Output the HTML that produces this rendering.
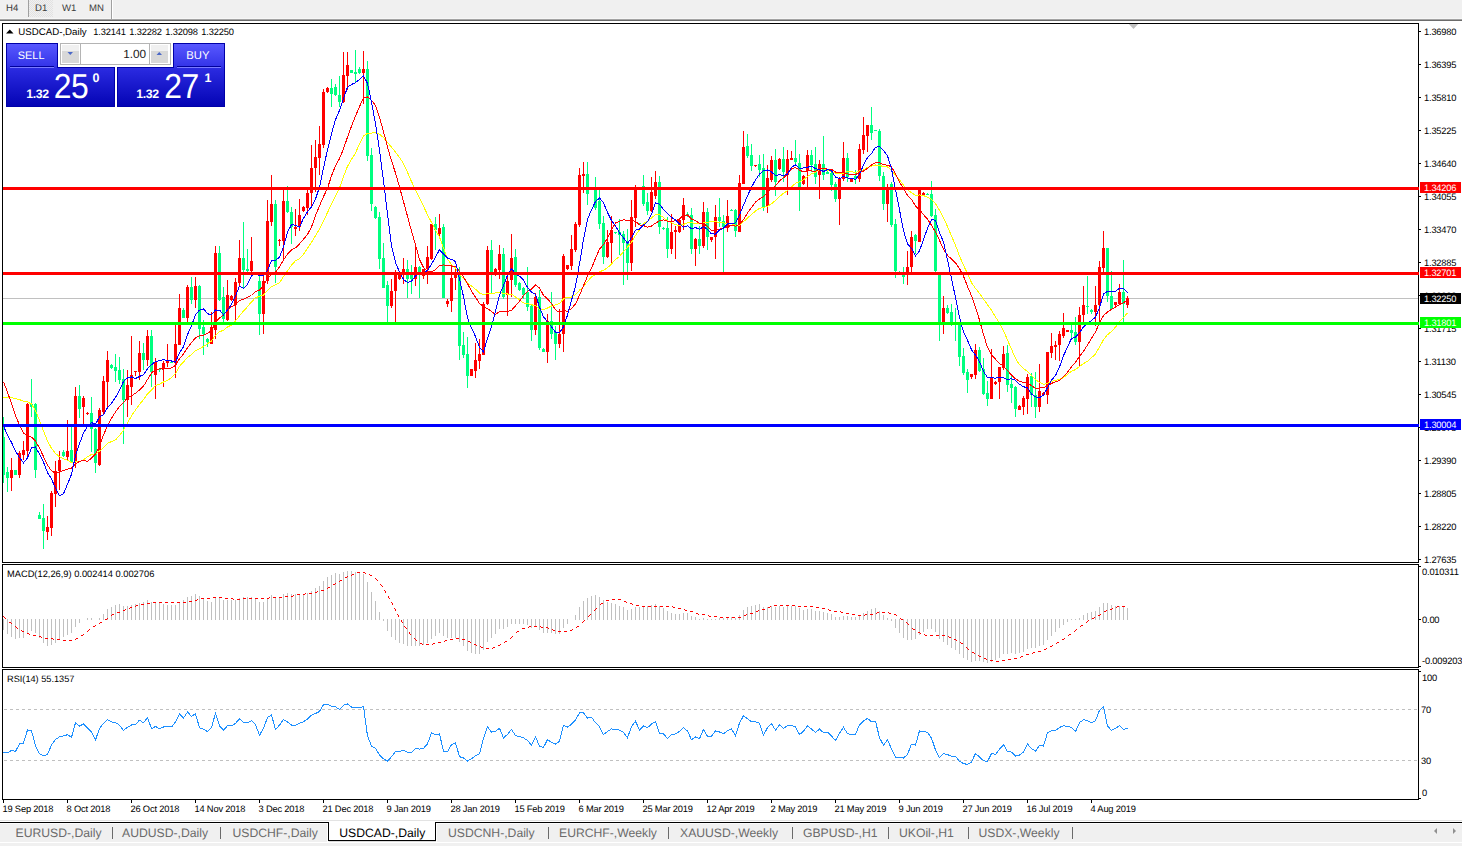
<!DOCTYPE html>
<html><head><meta charset="utf-8"><title>USDCAD-,Daily</title>
<style>html,body{margin:0;padding:0;background:#fff;}body{width:1462px;height:846px;overflow:hidden;position:relative;font-family:"Liberation Sans",sans-serif;}</style>
</head><body>
<svg width="1462" height="846" viewBox="0 0 1462 846" style="position:absolute;left:0;top:0" shape-rendering="crispEdges" text-rendering="geometricPrecision">
<defs><pattern id="chk" width="2" height="2" patternUnits="userSpaceOnUse"><rect width="2" height="2" fill="#f0f0f0"/><rect width="1" height="1" fill="#e2e2e2"/><rect x="1" y="1" width="1" height="1" fill="#e2e2e2"/></pattern><linearGradient id="gTop" x1="0" y1="0" x2="0" y2="1"><stop offset="0" stop-color="#5656ff"/><stop offset="1" stop-color="#3434ec"/></linearGradient><linearGradient id="gBot" x1="0" y1="0" x2="0" y2="1"><stop offset="0" stop-color="#2a2ae0"/><stop offset="1" stop-color="#0000b4"/></linearGradient><linearGradient id="gBtn" x1="0" y1="0" x2="0" y2="1"><stop offset="0" stop-color="#e8e8e8"/><stop offset="0.5" stop-color="#dedede"/><stop offset="1" stop-color="#cfcfcf"/></linearGradient></defs>
<rect x="0" y="0" width="1462" height="846" fill="#ffffff"/>
<rect x="0" y="0" width="1462" height="18" fill="#f0f0f0"/>
<rect x="0" y="18" width="1462" height="1" fill="#f6f6f6"/>
<rect x="0" y="19" width="1462" height="1" fill="#a3a3a3"/>
<rect x="0" y="20" width="1462" height="1" fill="#6b6b6b"/>
<rect x="29" y="0" width="24" height="17" fill="url(#chk)"/>
<rect x="28" y="0" width="1" height="17" fill="#a0a0a0"/>
<rect x="111" y="0" width="1" height="19" fill="#a0a0a0"/>
<rect x="112" y="0" width="1" height="19" fill="#ffffff"/>
<text x="6" y="11" font-family="Liberation Sans, sans-serif" font-size="9.6" fill="#3c3c3c" >H4</text>
<text x="35" y="11" font-family="Liberation Sans, sans-serif" font-size="9.6" fill="#3c3c3c" >D1</text>
<text x="62" y="11" font-family="Liberation Sans, sans-serif" font-size="9.6" fill="#3c3c3c" >W1</text>
<text x="89" y="11" font-family="Liberation Sans, sans-serif" font-size="9.6" fill="#3c3c3c" >MN</text>
<rect x="2" y="23" width="1417" height="1" fill="#000"/>
<rect x="2" y="562" width="1417" height="1" fill="#000"/>
<rect x="2" y="23" width="1" height="540" fill="#000"/>
<rect x="1418" y="23" width="1" height="540" fill="#000"/>
<rect x="2" y="564" width="1417" height="1" fill="#000"/>
<rect x="2" y="667" width="1417" height="1" fill="#000"/>
<rect x="2" y="564" width="1" height="104" fill="#000"/>
<rect x="1418" y="564" width="1" height="104" fill="#000"/>
<rect x="2" y="669" width="1417" height="1" fill="#000"/>
<rect x="2" y="799" width="1417" height="1" fill="#000"/>
<rect x="2" y="669" width="1" height="131" fill="#000"/>
<rect x="1418" y="669" width="1" height="131" fill="#000"/>
<rect x="1419" y="31" width="2" height="1" fill="#000"/>
<text x="1424" y="35" font-family="Liberation Sans, sans-serif" font-size="9.33" fill="#000" letter-spacing="-0.2">1.36980</text>
<rect x="1419" y="64" width="2" height="1" fill="#000"/>
<text x="1424" y="68" font-family="Liberation Sans, sans-serif" font-size="9.33" fill="#000" letter-spacing="-0.2">1.36395</text>
<rect x="1419" y="97" width="2" height="1" fill="#000"/>
<text x="1424" y="101" font-family="Liberation Sans, sans-serif" font-size="9.33" fill="#000" letter-spacing="-0.2">1.35810</text>
<rect x="1419" y="130" width="2" height="1" fill="#000"/>
<text x="1424" y="134" font-family="Liberation Sans, sans-serif" font-size="9.33" fill="#000" letter-spacing="-0.2">1.35225</text>
<rect x="1419" y="163" width="2" height="1" fill="#000"/>
<text x="1424" y="167" font-family="Liberation Sans, sans-serif" font-size="9.33" fill="#000" letter-spacing="-0.2">1.34640</text>
<rect x="1419" y="196" width="2" height="1" fill="#000"/>
<text x="1424" y="200" font-family="Liberation Sans, sans-serif" font-size="9.33" fill="#000" letter-spacing="-0.2">1.34055</text>
<rect x="1419" y="229" width="2" height="1" fill="#000"/>
<text x="1424" y="233" font-family="Liberation Sans, sans-serif" font-size="9.33" fill="#000" letter-spacing="-0.2">1.33470</text>
<rect x="1419" y="262" width="2" height="1" fill="#000"/>
<text x="1424" y="266" font-family="Liberation Sans, sans-serif" font-size="9.33" fill="#000" letter-spacing="-0.2">1.32885</text>
<rect x="1419" y="295" width="2" height="1" fill="#000"/>
<text x="1424" y="299" font-family="Liberation Sans, sans-serif" font-size="9.33" fill="#000" letter-spacing="-0.2">1.32300</text>
<rect x="1419" y="328" width="2" height="1" fill="#000"/>
<text x="1424" y="332" font-family="Liberation Sans, sans-serif" font-size="9.33" fill="#000" letter-spacing="-0.2">1.31715</text>
<rect x="1419" y="361" width="2" height="1" fill="#000"/>
<text x="1424" y="365" font-family="Liberation Sans, sans-serif" font-size="9.33" fill="#000" letter-spacing="-0.2">1.31130</text>
<rect x="1419" y="394" width="2" height="1" fill="#000"/>
<text x="1424" y="398" font-family="Liberation Sans, sans-serif" font-size="9.33" fill="#000" letter-spacing="-0.2">1.30545</text>
<rect x="1419" y="427" width="2" height="1" fill="#000"/>
<text x="1424" y="431" font-family="Liberation Sans, sans-serif" font-size="9.33" fill="#000" letter-spacing="-0.2">1.29975</text>
<rect x="1419" y="460" width="2" height="1" fill="#000"/>
<text x="1424" y="464" font-family="Liberation Sans, sans-serif" font-size="9.33" fill="#000" letter-spacing="-0.2">1.29390</text>
<rect x="1419" y="493" width="2" height="1" fill="#000"/>
<text x="1424" y="497" font-family="Liberation Sans, sans-serif" font-size="9.33" fill="#000" letter-spacing="-0.2">1.28805</text>
<rect x="1419" y="526" width="2" height="1" fill="#000"/>
<text x="1424" y="530" font-family="Liberation Sans, sans-serif" font-size="9.33" fill="#000" letter-spacing="-0.2">1.28220</text>
<rect x="1419" y="559" width="2" height="1" fill="#000"/>
<text x="1424" y="563" font-family="Liberation Sans, sans-serif" font-size="9.33" fill="#000" letter-spacing="-0.2">1.27635</text>
<rect x="3" y="298" width="1415" height="1" fill="#c0c0c0"/>
<rect x="1420" y="293" width="41" height="11" fill="#000"/>
<text x="1424" y="302" font-family="Liberation Sans, sans-serif" font-size="9.33" fill="#fff" letter-spacing="-0.2">1.32250</text>
<clipPath id="cm"><rect x="3" y="24" width="1415" height="538"/></clipPath>
<g clip-path="url(#cm)">
<rect x="3" y="417" width="1" height="66" fill="#00ff7f"/>
<rect x="2" y="437" width="3" height="38" fill="#00ff7f"/>
<rect x="7" y="467" width="1" height="25" fill="#00ff7f"/>
<rect x="6" y="472" width="3" height="6" fill="#00ff7f"/>
<rect x="11" y="458" width="1" height="33" fill="#ff0000"/>
<rect x="10" y="470" width="3" height="8" fill="#ff0000"/>
<rect x="15" y="470" width="1" height="5" fill="#00ff7f"/>
<rect x="14" y="470" width="3" height="5" fill="#00ff7f"/>
<rect x="19" y="451" width="1" height="27" fill="#ff0000"/>
<rect x="18" y="453" width="3" height="22" fill="#ff0000"/>
<rect x="23" y="441" width="1" height="19" fill="#ff0000"/>
<rect x="22" y="450" width="3" height="5" fill="#ff0000"/>
<rect x="27" y="403" width="1" height="53" fill="#ff0000"/>
<rect x="26" y="404" width="3" height="47" fill="#ff0000"/>
<rect x="31" y="379" width="1" height="38" fill="#00ff7f"/>
<rect x="30" y="404" width="3" height="3" fill="#00ff7f"/>
<rect x="35" y="403" width="1" height="75" fill="#00ff7f"/>
<rect x="34" y="404" width="3" height="66" fill="#00ff7f"/>
<rect x="39" y="512" width="1" height="7" fill="#00ff7f"/>
<rect x="38" y="515" width="3" height="4" fill="#00ff7f"/>
<rect x="43" y="504" width="1" height="45" fill="#00ff7f"/>
<rect x="42" y="518" width="3" height="13" fill="#00ff7f"/>
<rect x="47" y="516" width="1" height="24" fill="#ff0000"/>
<rect x="46" y="527" width="3" height="5" fill="#ff0000"/>
<rect x="51" y="491" width="1" height="45" fill="#ff0000"/>
<rect x="50" y="493" width="3" height="35" fill="#ff0000"/>
<rect x="55" y="461" width="1" height="46" fill="#ff0000"/>
<rect x="54" y="471" width="3" height="23" fill="#ff0000"/>
<rect x="59" y="451" width="1" height="39" fill="#ff0000"/>
<rect x="58" y="460" width="3" height="11" fill="#ff0000"/>
<rect x="63" y="450" width="1" height="7" fill="#00ff7f"/>
<rect x="62" y="452" width="3" height="4" fill="#00ff7f"/>
<rect x="67" y="420" width="1" height="40" fill="#ff0000"/>
<rect x="66" y="451" width="3" height="6" fill="#ff0000"/>
<rect x="71" y="426" width="1" height="37" fill="#00ff7f"/>
<rect x="70" y="450" width="3" height="12" fill="#00ff7f"/>
<rect x="75" y="387" width="1" height="81" fill="#ff0000"/>
<rect x="74" y="396" width="3" height="66" fill="#ff0000"/>
<rect x="79" y="385" width="1" height="33" fill="#00ff7f"/>
<rect x="78" y="396" width="3" height="13" fill="#00ff7f"/>
<rect x="83" y="396" width="1" height="28" fill="#ff0000"/>
<rect x="82" y="398" width="3" height="9" fill="#ff0000"/>
<rect x="87" y="412" width="1" height="3" fill="#ff0000"/>
<rect x="86" y="413" width="3" height="1" fill="#ff0000"/>
<rect x="91" y="397" width="1" height="55" fill="#00ff7f"/>
<rect x="90" y="413" width="3" height="16" fill="#00ff7f"/>
<rect x="95" y="428" width="1" height="45" fill="#00ff7f"/>
<rect x="94" y="429" width="3" height="34" fill="#00ff7f"/>
<rect x="99" y="408" width="1" height="58" fill="#ff0000"/>
<rect x="98" y="410" width="3" height="55" fill="#ff0000"/>
<rect x="103" y="376" width="1" height="39" fill="#ff0000"/>
<rect x="102" y="381" width="3" height="31" fill="#ff0000"/>
<rect x="107" y="351" width="1" height="56" fill="#ff0000"/>
<rect x="106" y="360" width="3" height="22" fill="#ff0000"/>
<rect x="111" y="364" width="1" height="5" fill="#00ff7f"/>
<rect x="110" y="365" width="3" height="3" fill="#00ff7f"/>
<rect x="115" y="354" width="1" height="28" fill="#00ff7f"/>
<rect x="114" y="367" width="3" height="4" fill="#00ff7f"/>
<rect x="119" y="357" width="1" height="27" fill="#00ff7f"/>
<rect x="118" y="370" width="3" height="10" fill="#00ff7f"/>
<rect x="123" y="369" width="1" height="75" fill="#00ff7f"/>
<rect x="122" y="379" width="3" height="21" fill="#00ff7f"/>
<rect x="127" y="370" width="1" height="47" fill="#ff0000"/>
<rect x="126" y="385" width="3" height="15" fill="#ff0000"/>
<rect x="131" y="336" width="1" height="69" fill="#ff0000"/>
<rect x="130" y="375" width="3" height="12" fill="#ff0000"/>
<rect x="135" y="371" width="1" height="5" fill="#ff0000"/>
<rect x="134" y="371" width="3" height="1" fill="#ff0000"/>
<rect x="139" y="341" width="1" height="39" fill="#ff0000"/>
<rect x="138" y="353" width="3" height="19" fill="#ff0000"/>
<rect x="143" y="343" width="1" height="27" fill="#00ff7f"/>
<rect x="142" y="353" width="3" height="7" fill="#00ff7f"/>
<rect x="147" y="330" width="1" height="36" fill="#ff0000"/>
<rect x="146" y="336" width="3" height="24" fill="#ff0000"/>
<rect x="151" y="330" width="1" height="57" fill="#00ff7f"/>
<rect x="150" y="336" width="3" height="36" fill="#00ff7f"/>
<rect x="155" y="358" width="1" height="41" fill="#ff0000"/>
<rect x="154" y="362" width="3" height="13" fill="#ff0000"/>
<rect x="159" y="369" width="1" height="3" fill="#00ff7f"/>
<rect x="158" y="369" width="3" height="1" fill="#00ff7f"/>
<rect x="163" y="361" width="1" height="26" fill="#ff0000"/>
<rect x="162" y="363" width="3" height="6" fill="#ff0000"/>
<rect x="167" y="344" width="1" height="23" fill="#ff0000"/>
<rect x="166" y="361" width="3" height="2" fill="#ff0000"/>
<rect x="171" y="361" width="1" height="2" fill="#00ff7f"/>
<rect x="170" y="362" width="3" height="1" fill="#00ff7f"/>
<rect x="175" y="325" width="1" height="53" fill="#ff0000"/>
<rect x="174" y="344" width="3" height="19" fill="#ff0000"/>
<rect x="179" y="294" width="1" height="51" fill="#ff0000"/>
<rect x="178" y="308" width="3" height="37" fill="#ff0000"/>
<rect x="183" y="308" width="1" height="10" fill="#00ff7f"/>
<rect x="182" y="310" width="3" height="8" fill="#00ff7f"/>
<rect x="187" y="285" width="1" height="37" fill="#ff0000"/>
<rect x="186" y="287" width="3" height="31" fill="#ff0000"/>
<rect x="191" y="277" width="1" height="27" fill="#00ff7f"/>
<rect x="190" y="287" width="3" height="13" fill="#00ff7f"/>
<rect x="195" y="277" width="1" height="31" fill="#ff0000"/>
<rect x="194" y="286" width="3" height="14" fill="#ff0000"/>
<rect x="199" y="285" width="1" height="54" fill="#00ff7f"/>
<rect x="198" y="286" width="3" height="43" fill="#00ff7f"/>
<rect x="203" y="320" width="1" height="35" fill="#00ff7f"/>
<rect x="202" y="327" width="3" height="7" fill="#00ff7f"/>
<rect x="207" y="338" width="1" height="9" fill="#00ff7f"/>
<rect x="206" y="339" width="3" height="3" fill="#00ff7f"/>
<rect x="211" y="312" width="1" height="32" fill="#ff0000"/>
<rect x="210" y="327" width="3" height="17" fill="#ff0000"/>
<rect x="215" y="246" width="1" height="93" fill="#ff0000"/>
<rect x="214" y="253" width="3" height="77" fill="#ff0000"/>
<rect x="219" y="246" width="1" height="55" fill="#00ff7f"/>
<rect x="218" y="253" width="3" height="47" fill="#00ff7f"/>
<rect x="223" y="287" width="1" height="35" fill="#00ff7f"/>
<rect x="222" y="297" width="3" height="22" fill="#00ff7f"/>
<rect x="227" y="280" width="1" height="41" fill="#ff0000"/>
<rect x="226" y="295" width="3" height="25" fill="#ff0000"/>
<rect x="231" y="295" width="1" height="6" fill="#ff0000"/>
<rect x="230" y="296" width="3" height="4" fill="#ff0000"/>
<rect x="235" y="278" width="1" height="42" fill="#ff0000"/>
<rect x="234" y="282" width="3" height="23" fill="#ff0000"/>
<rect x="239" y="240" width="1" height="46" fill="#ff0000"/>
<rect x="238" y="258" width="3" height="25" fill="#ff0000"/>
<rect x="243" y="222" width="1" height="67" fill="#00ff7f"/>
<rect x="242" y="258" width="3" height="12" fill="#00ff7f"/>
<rect x="247" y="249" width="1" height="23" fill="#00ff7f"/>
<rect x="246" y="269" width="3" height="2" fill="#00ff7f"/>
<rect x="251" y="237" width="1" height="35" fill="#ff0000"/>
<rect x="250" y="261" width="3" height="10" fill="#ff0000"/>
<rect x="255" y="273" width="1" height="1" fill="#00ff7f"/>
<rect x="254" y="273" width="3" height="1" fill="#00ff7f"/>
<rect x="259" y="276" width="1" height="59" fill="#00ff7f"/>
<rect x="258" y="281" width="3" height="33" fill="#00ff7f"/>
<rect x="263" y="276" width="1" height="58" fill="#ff0000"/>
<rect x="262" y="281" width="3" height="33" fill="#ff0000"/>
<rect x="267" y="200" width="1" height="84" fill="#ff0000"/>
<rect x="266" y="221" width="3" height="60" fill="#ff0000"/>
<rect x="271" y="175" width="1" height="51" fill="#ff0000"/>
<rect x="270" y="204" width="3" height="18" fill="#ff0000"/>
<rect x="275" y="200" width="1" height="83" fill="#00ff7f"/>
<rect x="274" y="204" width="3" height="63" fill="#00ff7f"/>
<rect x="279" y="239" width="1" height="7" fill="#ff0000"/>
<rect x="278" y="240" width="3" height="1" fill="#ff0000"/>
<rect x="283" y="190" width="1" height="71" fill="#ff0000"/>
<rect x="282" y="201" width="3" height="40" fill="#ff0000"/>
<rect x="287" y="186" width="1" height="27" fill="#00ff7f"/>
<rect x="286" y="201" width="3" height="11" fill="#00ff7f"/>
<rect x="291" y="207" width="1" height="37" fill="#00ff7f"/>
<rect x="290" y="212" width="3" height="15" fill="#00ff7f"/>
<rect x="295" y="209" width="1" height="27" fill="#ff0000"/>
<rect x="294" y="227" width="3" height="2" fill="#ff0000"/>
<rect x="299" y="199" width="1" height="32" fill="#ff0000"/>
<rect x="298" y="215" width="3" height="12" fill="#ff0000"/>
<rect x="303" y="206" width="1" height="6" fill="#ff0000"/>
<rect x="302" y="207" width="3" height="4" fill="#ff0000"/>
<rect x="307" y="190" width="1" height="25" fill="#ff0000"/>
<rect x="306" y="193" width="3" height="15" fill="#ff0000"/>
<rect x="311" y="145" width="1" height="61" fill="#ff0000"/>
<rect x="310" y="168" width="3" height="25" fill="#ff0000"/>
<rect x="315" y="140" width="1" height="52" fill="#ff0000"/>
<rect x="314" y="157" width="3" height="11" fill="#ff0000"/>
<rect x="319" y="126" width="1" height="49" fill="#ff0000"/>
<rect x="318" y="144" width="3" height="14" fill="#ff0000"/>
<rect x="323" y="89" width="1" height="59" fill="#ff0000"/>
<rect x="322" y="92" width="3" height="53" fill="#ff0000"/>
<rect x="327" y="87" width="1" height="6" fill="#ff0000"/>
<rect x="326" y="88" width="3" height="4" fill="#ff0000"/>
<rect x="331" y="79" width="1" height="28" fill="#00ff7f"/>
<rect x="330" y="88" width="3" height="6" fill="#00ff7f"/>
<rect x="335" y="84" width="1" height="12" fill="#00ff7f"/>
<rect x="334" y="87" width="3" height="8" fill="#00ff7f"/>
<rect x="339" y="76" width="1" height="31" fill="#00ff7f"/>
<rect x="338" y="95" width="3" height="7" fill="#00ff7f"/>
<rect x="343" y="52" width="1" height="51" fill="#ff0000"/>
<rect x="342" y="75" width="3" height="27" fill="#ff0000"/>
<rect x="347" y="52" width="1" height="38" fill="#ff0000"/>
<rect x="346" y="65" width="3" height="11" fill="#ff0000"/>
<rect x="351" y="70" width="1" height="3" fill="#00ff7f"/>
<rect x="350" y="70" width="3" height="3" fill="#00ff7f"/>
<rect x="355" y="50" width="1" height="32" fill="#00ff7f"/>
<rect x="354" y="72" width="3" height="2" fill="#00ff7f"/>
<rect x="359" y="67" width="1" height="7" fill="#00ff7f"/>
<rect x="358" y="69" width="3" height="4" fill="#00ff7f"/>
<rect x="363" y="51" width="1" height="53" fill="#ff0000"/>
<rect x="362" y="69" width="3" height="4" fill="#ff0000"/>
<rect x="367" y="61" width="1" height="100" fill="#00ff7f"/>
<rect x="366" y="69" width="3" height="87" fill="#00ff7f"/>
<rect x="371" y="148" width="1" height="63" fill="#00ff7f"/>
<rect x="370" y="155" width="3" height="49" fill="#00ff7f"/>
<rect x="375" y="206" width="1" height="13" fill="#00ff7f"/>
<rect x="374" y="207" width="3" height="11" fill="#00ff7f"/>
<rect x="379" y="212" width="1" height="57" fill="#00ff7f"/>
<rect x="378" y="217" width="3" height="42" fill="#00ff7f"/>
<rect x="383" y="243" width="1" height="45" fill="#00ff7f"/>
<rect x="382" y="258" width="3" height="30" fill="#00ff7f"/>
<rect x="387" y="281" width="1" height="41" fill="#00ff7f"/>
<rect x="386" y="285" width="3" height="21" fill="#00ff7f"/>
<rect x="391" y="279" width="1" height="29" fill="#ff0000"/>
<rect x="390" y="291" width="3" height="15" fill="#ff0000"/>
<rect x="395" y="270" width="1" height="52" fill="#ff0000"/>
<rect x="394" y="272" width="3" height="19" fill="#ff0000"/>
<rect x="399" y="272" width="1" height="8" fill="#ff0000"/>
<rect x="398" y="272" width="3" height="7" fill="#ff0000"/>
<rect x="403" y="258" width="1" height="26" fill="#ff0000"/>
<rect x="402" y="269" width="3" height="6" fill="#ff0000"/>
<rect x="407" y="260" width="1" height="38" fill="#00ff7f"/>
<rect x="406" y="269" width="3" height="10" fill="#00ff7f"/>
<rect x="411" y="265" width="1" height="29" fill="#00ff7f"/>
<rect x="410" y="274" width="3" height="5" fill="#00ff7f"/>
<rect x="415" y="247" width="1" height="39" fill="#ff0000"/>
<rect x="414" y="267" width="3" height="12" fill="#ff0000"/>
<rect x="419" y="266" width="1" height="32" fill="#00ff7f"/>
<rect x="418" y="267" width="3" height="5" fill="#00ff7f"/>
<rect x="423" y="269" width="1" height="10" fill="#ff0000"/>
<rect x="422" y="269" width="3" height="7" fill="#ff0000"/>
<rect x="427" y="246" width="1" height="38" fill="#ff0000"/>
<rect x="426" y="257" width="3" height="12" fill="#ff0000"/>
<rect x="431" y="224" width="1" height="36" fill="#ff0000"/>
<rect x="430" y="224" width="3" height="35" fill="#ff0000"/>
<rect x="435" y="217" width="1" height="33" fill="#00ff7f"/>
<rect x="434" y="224" width="3" height="6" fill="#00ff7f"/>
<rect x="439" y="214" width="1" height="23" fill="#ff0000"/>
<rect x="438" y="228" width="3" height="6" fill="#ff0000"/>
<rect x="443" y="224" width="1" height="74" fill="#00ff7f"/>
<rect x="442" y="227" width="3" height="71" fill="#00ff7f"/>
<rect x="447" y="299" width="1" height="8" fill="#ff0000"/>
<rect x="446" y="301" width="3" height="3" fill="#ff0000"/>
<rect x="451" y="267" width="1" height="45" fill="#ff0000"/>
<rect x="450" y="278" width="3" height="23" fill="#ff0000"/>
<rect x="455" y="267" width="1" height="23" fill="#ff0000"/>
<rect x="454" y="272" width="3" height="6" fill="#ff0000"/>
<rect x="459" y="267" width="1" height="93" fill="#00ff7f"/>
<rect x="458" y="272" width="3" height="74" fill="#00ff7f"/>
<rect x="463" y="332" width="1" height="26" fill="#00ff7f"/>
<rect x="462" y="345" width="3" height="10" fill="#00ff7f"/>
<rect x="467" y="337" width="1" height="51" fill="#00ff7f"/>
<rect x="466" y="354" width="3" height="22" fill="#00ff7f"/>
<rect x="471" y="369" width="1" height="7" fill="#ff0000"/>
<rect x="470" y="369" width="3" height="7" fill="#ff0000"/>
<rect x="475" y="343" width="1" height="35" fill="#ff0000"/>
<rect x="474" y="360" width="3" height="11" fill="#ff0000"/>
<rect x="479" y="339" width="1" height="30" fill="#ff0000"/>
<rect x="478" y="354" width="3" height="7" fill="#ff0000"/>
<rect x="483" y="302" width="1" height="53" fill="#ff0000"/>
<rect x="482" y="304" width="3" height="51" fill="#ff0000"/>
<rect x="487" y="246" width="1" height="59" fill="#ff0000"/>
<rect x="486" y="250" width="3" height="54" fill="#ff0000"/>
<rect x="491" y="240" width="1" height="54" fill="#00ff7f"/>
<rect x="490" y="250" width="3" height="23" fill="#00ff7f"/>
<rect x="495" y="268" width="1" height="8" fill="#ff0000"/>
<rect x="494" y="269" width="3" height="6" fill="#ff0000"/>
<rect x="499" y="245" width="1" height="34" fill="#ff0000"/>
<rect x="498" y="254" width="3" height="16" fill="#ff0000"/>
<rect x="503" y="248" width="1" height="51" fill="#00ff7f"/>
<rect x="502" y="254" width="3" height="43" fill="#00ff7f"/>
<rect x="507" y="277" width="1" height="39" fill="#ff0000"/>
<rect x="506" y="281" width="3" height="14" fill="#ff0000"/>
<rect x="511" y="234" width="1" height="63" fill="#ff0000"/>
<rect x="510" y="258" width="3" height="22" fill="#ff0000"/>
<rect x="515" y="249" width="1" height="38" fill="#00ff7f"/>
<rect x="514" y="257" width="3" height="28" fill="#00ff7f"/>
<rect x="519" y="282" width="1" height="9" fill="#00ff7f"/>
<rect x="518" y="283" width="3" height="7" fill="#00ff7f"/>
<rect x="523" y="287" width="1" height="12" fill="#00ff7f"/>
<rect x="522" y="288" width="3" height="7" fill="#00ff7f"/>
<rect x="527" y="267" width="1" height="44" fill="#00ff7f"/>
<rect x="526" y="292" width="3" height="15" fill="#00ff7f"/>
<rect x="531" y="305" width="1" height="36" fill="#00ff7f"/>
<rect x="530" y="306" width="3" height="24" fill="#00ff7f"/>
<rect x="535" y="293" width="1" height="42" fill="#ff0000"/>
<rect x="534" y="297" width="3" height="33" fill="#ff0000"/>
<rect x="539" y="290" width="1" height="60" fill="#00ff7f"/>
<rect x="538" y="297" width="3" height="51" fill="#00ff7f"/>
<rect x="543" y="348" width="1" height="4" fill="#00ff7f"/>
<rect x="542" y="349" width="3" height="3" fill="#00ff7f"/>
<rect x="547" y="314" width="1" height="49" fill="#ff0000"/>
<rect x="546" y="321" width="3" height="31" fill="#ff0000"/>
<rect x="551" y="292" width="1" height="47" fill="#00ff7f"/>
<rect x="550" y="321" width="3" height="13" fill="#00ff7f"/>
<rect x="555" y="326" width="1" height="34" fill="#00ff7f"/>
<rect x="554" y="332" width="3" height="12" fill="#00ff7f"/>
<rect x="559" y="309" width="1" height="39" fill="#ff0000"/>
<rect x="558" y="334" width="3" height="10" fill="#ff0000"/>
<rect x="563" y="254" width="1" height="98" fill="#ff0000"/>
<rect x="562" y="256" width="3" height="78" fill="#ff0000"/>
<rect x="567" y="265" width="1" height="5" fill="#ff0000"/>
<rect x="566" y="265" width="3" height="4" fill="#ff0000"/>
<rect x="571" y="235" width="1" height="35" fill="#ff0000"/>
<rect x="570" y="249" width="3" height="17" fill="#ff0000"/>
<rect x="575" y="222" width="1" height="30" fill="#ff0000"/>
<rect x="574" y="224" width="3" height="26" fill="#ff0000"/>
<rect x="579" y="168" width="1" height="59" fill="#ff0000"/>
<rect x="578" y="175" width="3" height="50" fill="#ff0000"/>
<rect x="583" y="162" width="1" height="31" fill="#ff0000"/>
<rect x="582" y="174" width="3" height="2" fill="#ff0000"/>
<rect x="587" y="162" width="1" height="43" fill="#00ff7f"/>
<rect x="586" y="174" width="3" height="20" fill="#00ff7f"/>
<rect x="591" y="187" width="1" height="2" fill="#ff0000"/>
<rect x="590" y="188" width="3" height="1" fill="#ff0000"/>
<rect x="595" y="177" width="1" height="33" fill="#00ff7f"/>
<rect x="594" y="190" width="3" height="18" fill="#00ff7f"/>
<rect x="599" y="190" width="1" height="39" fill="#00ff7f"/>
<rect x="598" y="201" width="3" height="23" fill="#00ff7f"/>
<rect x="603" y="216" width="1" height="48" fill="#00ff7f"/>
<rect x="602" y="223" width="3" height="34" fill="#00ff7f"/>
<rect x="607" y="230" width="1" height="28" fill="#ff0000"/>
<rect x="606" y="242" width="3" height="15" fill="#ff0000"/>
<rect x="611" y="216" width="1" height="47" fill="#ff0000"/>
<rect x="610" y="230" width="3" height="13" fill="#ff0000"/>
<rect x="615" y="232" width="1" height="2" fill="#00ff7f"/>
<rect x="614" y="232" width="3" height="1" fill="#00ff7f"/>
<rect x="619" y="219" width="1" height="36" fill="#00ff7f"/>
<rect x="618" y="232" width="3" height="3" fill="#00ff7f"/>
<rect x="623" y="231" width="1" height="54" fill="#00ff7f"/>
<rect x="622" y="234" width="3" height="9" fill="#00ff7f"/>
<rect x="627" y="229" width="1" height="51" fill="#00ff7f"/>
<rect x="626" y="242" width="3" height="21" fill="#00ff7f"/>
<rect x="631" y="200" width="1" height="71" fill="#ff0000"/>
<rect x="630" y="217" width="3" height="46" fill="#ff0000"/>
<rect x="635" y="185" width="1" height="42" fill="#ff0000"/>
<rect x="634" y="190" width="3" height="28" fill="#ff0000"/>
<rect x="639" y="223" width="1" height="1" fill="#00ff7f"/>
<rect x="638" y="223" width="3" height="1" fill="#00ff7f"/>
<rect x="643" y="175" width="1" height="31" fill="#00ff7f"/>
<rect x="642" y="186" width="3" height="18" fill="#00ff7f"/>
<rect x="647" y="193" width="1" height="22" fill="#00ff7f"/>
<rect x="646" y="202" width="3" height="9" fill="#00ff7f"/>
<rect x="651" y="177" width="1" height="35" fill="#ff0000"/>
<rect x="650" y="192" width="3" height="19" fill="#ff0000"/>
<rect x="655" y="171" width="1" height="28" fill="#ff0000"/>
<rect x="654" y="182" width="3" height="14" fill="#ff0000"/>
<rect x="659" y="176" width="1" height="58" fill="#00ff7f"/>
<rect x="658" y="182" width="3" height="45" fill="#00ff7f"/>
<rect x="663" y="227" width="1" height="3" fill="#00ff7f"/>
<rect x="662" y="228" width="3" height="1" fill="#00ff7f"/>
<rect x="667" y="217" width="1" height="41" fill="#00ff7f"/>
<rect x="666" y="228" width="3" height="21" fill="#00ff7f"/>
<rect x="671" y="214" width="1" height="40" fill="#ff0000"/>
<rect x="670" y="232" width="3" height="17" fill="#ff0000"/>
<rect x="675" y="226" width="1" height="33" fill="#ff0000"/>
<rect x="674" y="230" width="3" height="2" fill="#ff0000"/>
<rect x="679" y="218" width="1" height="15" fill="#ff0000"/>
<rect x="678" y="220" width="3" height="12" fill="#ff0000"/>
<rect x="683" y="198" width="1" height="32" fill="#ff0000"/>
<rect x="682" y="205" width="3" height="15" fill="#ff0000"/>
<rect x="687" y="212" width="1" height="5" fill="#00ff7f"/>
<rect x="686" y="214" width="3" height="2" fill="#00ff7f"/>
<rect x="691" y="208" width="1" height="46" fill="#00ff7f"/>
<rect x="690" y="215" width="3" height="34" fill="#00ff7f"/>
<rect x="695" y="238" width="1" height="28" fill="#ff0000"/>
<rect x="694" y="239" width="3" height="10" fill="#ff0000"/>
<rect x="699" y="226" width="1" height="28" fill="#00ff7f"/>
<rect x="698" y="239" width="3" height="7" fill="#00ff7f"/>
<rect x="703" y="202" width="1" height="46" fill="#ff0000"/>
<rect x="702" y="212" width="3" height="34" fill="#ff0000"/>
<rect x="707" y="208" width="1" height="42" fill="#00ff7f"/>
<rect x="706" y="212" width="3" height="25" fill="#00ff7f"/>
<rect x="711" y="237" width="1" height="5" fill="#ff0000"/>
<rect x="710" y="237" width="3" height="3" fill="#ff0000"/>
<rect x="715" y="205" width="1" height="54" fill="#ff0000"/>
<rect x="714" y="217" width="3" height="20" fill="#ff0000"/>
<rect x="719" y="198" width="1" height="29" fill="#00ff7f"/>
<rect x="718" y="217" width="3" height="4" fill="#00ff7f"/>
<rect x="723" y="215" width="1" height="57" fill="#00ff7f"/>
<rect x="722" y="221" width="3" height="6" fill="#00ff7f"/>
<rect x="727" y="200" width="1" height="32" fill="#ff0000"/>
<rect x="726" y="216" width="3" height="12" fill="#ff0000"/>
<rect x="731" y="209" width="1" height="2" fill="#00ff7f"/>
<rect x="730" y="210" width="3" height="1" fill="#00ff7f"/>
<rect x="735" y="209" width="1" height="28" fill="#00ff7f"/>
<rect x="734" y="210" width="3" height="21" fill="#00ff7f"/>
<rect x="739" y="175" width="1" height="57" fill="#ff0000"/>
<rect x="738" y="183" width="3" height="49" fill="#ff0000"/>
<rect x="743" y="131" width="1" height="53" fill="#ff0000"/>
<rect x="742" y="147" width="3" height="37" fill="#ff0000"/>
<rect x="747" y="134" width="1" height="24" fill="#00ff7f"/>
<rect x="746" y="146" width="3" height="10" fill="#00ff7f"/>
<rect x="751" y="144" width="1" height="27" fill="#00ff7f"/>
<rect x="750" y="155" width="3" height="11" fill="#00ff7f"/>
<rect x="755" y="165" width="1" height="2" fill="#ff0000"/>
<rect x="754" y="165" width="3" height="1" fill="#ff0000"/>
<rect x="759" y="155" width="1" height="22" fill="#00ff7f"/>
<rect x="758" y="164" width="3" height="6" fill="#00ff7f"/>
<rect x="763" y="154" width="1" height="57" fill="#00ff7f"/>
<rect x="762" y="168" width="3" height="40" fill="#00ff7f"/>
<rect x="767" y="165" width="1" height="48" fill="#ff0000"/>
<rect x="766" y="178" width="3" height="28" fill="#ff0000"/>
<rect x="771" y="156" width="1" height="26" fill="#ff0000"/>
<rect x="770" y="160" width="3" height="20" fill="#ff0000"/>
<rect x="775" y="149" width="1" height="47" fill="#00ff7f"/>
<rect x="774" y="160" width="3" height="22" fill="#00ff7f"/>
<rect x="779" y="158" width="1" height="12" fill="#ff0000"/>
<rect x="778" y="159" width="3" height="10" fill="#ff0000"/>
<rect x="783" y="147" width="1" height="35" fill="#00ff7f"/>
<rect x="782" y="159" width="3" height="13" fill="#00ff7f"/>
<rect x="787" y="150" width="1" height="45" fill="#ff0000"/>
<rect x="786" y="159" width="3" height="16" fill="#ff0000"/>
<rect x="791" y="151" width="1" height="9" fill="#ff0000"/>
<rect x="790" y="158" width="3" height="2" fill="#ff0000"/>
<rect x="795" y="140" width="1" height="26" fill="#00ff7f"/>
<rect x="794" y="158" width="3" height="4" fill="#00ff7f"/>
<rect x="799" y="154" width="1" height="57" fill="#00ff7f"/>
<rect x="798" y="163" width="3" height="24" fill="#00ff7f"/>
<rect x="803" y="175" width="1" height="10" fill="#ff0000"/>
<rect x="802" y="176" width="3" height="8" fill="#ff0000"/>
<rect x="807" y="150" width="1" height="37" fill="#ff0000"/>
<rect x="806" y="155" width="3" height="16" fill="#ff0000"/>
<rect x="811" y="150" width="1" height="22" fill="#00ff7f"/>
<rect x="810" y="155" width="3" height="10" fill="#00ff7f"/>
<rect x="815" y="147" width="1" height="37" fill="#00ff7f"/>
<rect x="814" y="164" width="3" height="13" fill="#00ff7f"/>
<rect x="819" y="160" width="1" height="39" fill="#ff0000"/>
<rect x="818" y="164" width="3" height="11" fill="#ff0000"/>
<rect x="823" y="136" width="1" height="44" fill="#00ff7f"/>
<rect x="822" y="164" width="3" height="11" fill="#00ff7f"/>
<rect x="827" y="171" width="1" height="3" fill="#00ff7f"/>
<rect x="826" y="172" width="3" height="2" fill="#00ff7f"/>
<rect x="831" y="171" width="1" height="20" fill="#00ff7f"/>
<rect x="830" y="173" width="3" height="12" fill="#00ff7f"/>
<rect x="835" y="182" width="1" height="20" fill="#00ff7f"/>
<rect x="834" y="184" width="3" height="15" fill="#00ff7f"/>
<rect x="839" y="177" width="1" height="48" fill="#ff0000"/>
<rect x="838" y="178" width="3" height="21" fill="#ff0000"/>
<rect x="843" y="142" width="1" height="39" fill="#ff0000"/>
<rect x="842" y="158" width="3" height="21" fill="#ff0000"/>
<rect x="847" y="153" width="1" height="29" fill="#00ff7f"/>
<rect x="846" y="158" width="3" height="19" fill="#00ff7f"/>
<rect x="851" y="179" width="1" height="3" fill="#ff0000"/>
<rect x="850" y="179" width="3" height="3" fill="#ff0000"/>
<rect x="855" y="170" width="1" height="14" fill="#00ff7f"/>
<rect x="854" y="176" width="3" height="3" fill="#00ff7f"/>
<rect x="859" y="144" width="1" height="38" fill="#ff0000"/>
<rect x="858" y="149" width="3" height="30" fill="#ff0000"/>
<rect x="863" y="117" width="1" height="37" fill="#ff0000"/>
<rect x="862" y="135" width="3" height="15" fill="#ff0000"/>
<rect x="867" y="125" width="1" height="27" fill="#ff0000"/>
<rect x="866" y="125" width="3" height="11" fill="#ff0000"/>
<rect x="871" y="107" width="1" height="33" fill="#00ff7f"/>
<rect x="870" y="125" width="3" height="8" fill="#00ff7f"/>
<rect x="875" y="130" width="1" height="1" fill="#00ff7f"/>
<rect x="874" y="130" width="3" height="1" fill="#00ff7f"/>
<rect x="879" y="129" width="1" height="52" fill="#00ff7f"/>
<rect x="878" y="131" width="3" height="45" fill="#00ff7f"/>
<rect x="883" y="172" width="1" height="38" fill="#00ff7f"/>
<rect x="882" y="176" width="3" height="28" fill="#00ff7f"/>
<rect x="887" y="184" width="1" height="38" fill="#ff0000"/>
<rect x="886" y="188" width="3" height="16" fill="#ff0000"/>
<rect x="891" y="182" width="1" height="45" fill="#00ff7f"/>
<rect x="890" y="184" width="3" height="41" fill="#00ff7f"/>
<rect x="895" y="219" width="1" height="59" fill="#00ff7f"/>
<rect x="894" y="224" width="3" height="47" fill="#00ff7f"/>
<rect x="899" y="271" width="1" height="3" fill="#00ff7f"/>
<rect x="898" y="272" width="3" height="1" fill="#00ff7f"/>
<rect x="903" y="267" width="1" height="17" fill="#00ff7f"/>
<rect x="902" y="274" width="3" height="3" fill="#00ff7f"/>
<rect x="907" y="251" width="1" height="34" fill="#ff0000"/>
<rect x="906" y="267" width="3" height="8" fill="#ff0000"/>
<rect x="911" y="231" width="1" height="41" fill="#ff0000"/>
<rect x="910" y="237" width="3" height="30" fill="#ff0000"/>
<rect x="915" y="234" width="1" height="20" fill="#00ff7f"/>
<rect x="914" y="235" width="3" height="6" fill="#00ff7f"/>
<rect x="919" y="188" width="1" height="54" fill="#ff0000"/>
<rect x="918" y="189" width="3" height="53" fill="#ff0000"/>
<rect x="923" y="192" width="1" height="3" fill="#ff0000"/>
<rect x="922" y="193" width="3" height="2" fill="#ff0000"/>
<rect x="927" y="193" width="1" height="2" fill="#00ff7f"/>
<rect x="926" y="194" width="3" height="1" fill="#00ff7f"/>
<rect x="931" y="181" width="1" height="36" fill="#00ff7f"/>
<rect x="930" y="194" width="3" height="22" fill="#00ff7f"/>
<rect x="935" y="209" width="1" height="63" fill="#00ff7f"/>
<rect x="934" y="215" width="3" height="56" fill="#00ff7f"/>
<rect x="939" y="272" width="1" height="69" fill="#00ff7f"/>
<rect x="938" y="274" width="3" height="48" fill="#00ff7f"/>
<rect x="943" y="296" width="1" height="38" fill="#ff0000"/>
<rect x="942" y="308" width="3" height="14" fill="#ff0000"/>
<rect x="947" y="305" width="1" height="9" fill="#00ff7f"/>
<rect x="946" y="308" width="3" height="5" fill="#00ff7f"/>
<rect x="951" y="304" width="1" height="22" fill="#00ff7f"/>
<rect x="950" y="312" width="3" height="13" fill="#00ff7f"/>
<rect x="955" y="308" width="1" height="33" fill="#00ff7f"/>
<rect x="954" y="322" width="3" height="3" fill="#00ff7f"/>
<rect x="959" y="322" width="1" height="44" fill="#00ff7f"/>
<rect x="958" y="322" width="3" height="35" fill="#00ff7f"/>
<rect x="963" y="348" width="1" height="27" fill="#00ff7f"/>
<rect x="962" y="356" width="3" height="17" fill="#00ff7f"/>
<rect x="967" y="369" width="1" height="24" fill="#00ff7f"/>
<rect x="966" y="372" width="3" height="8" fill="#00ff7f"/>
<rect x="971" y="374" width="1" height="5" fill="#ff0000"/>
<rect x="970" y="374" width="3" height="3" fill="#ff0000"/>
<rect x="975" y="344" width="1" height="35" fill="#ff0000"/>
<rect x="974" y="350" width="3" height="25" fill="#ff0000"/>
<rect x="979" y="347" width="1" height="25" fill="#00ff7f"/>
<rect x="978" y="350" width="3" height="21" fill="#00ff7f"/>
<rect x="983" y="358" width="1" height="37" fill="#00ff7f"/>
<rect x="982" y="369" width="3" height="25" fill="#00ff7f"/>
<rect x="987" y="381" width="1" height="25" fill="#00ff7f"/>
<rect x="986" y="393" width="3" height="6" fill="#00ff7f"/>
<rect x="991" y="349" width="1" height="50" fill="#ff0000"/>
<rect x="990" y="377" width="3" height="22" fill="#ff0000"/>
<rect x="995" y="381" width="1" height="4" fill="#ff0000"/>
<rect x="994" y="382" width="3" height="2" fill="#ff0000"/>
<rect x="999" y="367" width="1" height="32" fill="#ff0000"/>
<rect x="998" y="367" width="3" height="15" fill="#ff0000"/>
<rect x="1003" y="346" width="1" height="24" fill="#ff0000"/>
<rect x="1002" y="354" width="3" height="14" fill="#ff0000"/>
<rect x="1007" y="345" width="1" height="47" fill="#00ff7f"/>
<rect x="1006" y="353" width="3" height="32" fill="#00ff7f"/>
<rect x="1011" y="375" width="1" height="28" fill="#00ff7f"/>
<rect x="1010" y="384" width="3" height="4" fill="#00ff7f"/>
<rect x="1015" y="386" width="1" height="31" fill="#00ff7f"/>
<rect x="1014" y="387" width="3" height="22" fill="#00ff7f"/>
<rect x="1019" y="405" width="1" height="5" fill="#ff0000"/>
<rect x="1018" y="406" width="3" height="4" fill="#ff0000"/>
<rect x="1023" y="396" width="1" height="19" fill="#ff0000"/>
<rect x="1022" y="398" width="3" height="9" fill="#ff0000"/>
<rect x="1027" y="374" width="1" height="40" fill="#ff0000"/>
<rect x="1026" y="377" width="3" height="22" fill="#ff0000"/>
<rect x="1031" y="373" width="1" height="34" fill="#00ff7f"/>
<rect x="1030" y="376" width="3" height="19" fill="#00ff7f"/>
<rect x="1035" y="372" width="1" height="46" fill="#00ff7f"/>
<rect x="1034" y="395" width="3" height="12" fill="#00ff7f"/>
<rect x="1039" y="364" width="1" height="48" fill="#ff0000"/>
<rect x="1038" y="391" width="3" height="16" fill="#ff0000"/>
<rect x="1043" y="392" width="1" height="4" fill="#ff0000"/>
<rect x="1042" y="393" width="3" height="2" fill="#ff0000"/>
<rect x="1047" y="352" width="1" height="52" fill="#ff0000"/>
<rect x="1046" y="352" width="3" height="43" fill="#ff0000"/>
<rect x="1051" y="333" width="1" height="25" fill="#ff0000"/>
<rect x="1050" y="346" width="3" height="7" fill="#ff0000"/>
<rect x="1055" y="341" width="1" height="19" fill="#ff0000"/>
<rect x="1054" y="345" width="3" height="2" fill="#ff0000"/>
<rect x="1059" y="331" width="1" height="30" fill="#ff0000"/>
<rect x="1058" y="334" width="3" height="11" fill="#ff0000"/>
<rect x="1063" y="313" width="1" height="25" fill="#ff0000"/>
<rect x="1062" y="328" width="3" height="8" fill="#ff0000"/>
<rect x="1067" y="330" width="1" height="2" fill="#ff0000"/>
<rect x="1066" y="330" width="3" height="2" fill="#ff0000"/>
<rect x="1071" y="325" width="1" height="13" fill="#00ff7f"/>
<rect x="1070" y="330" width="3" height="3" fill="#00ff7f"/>
<rect x="1075" y="317" width="1" height="28" fill="#00ff7f"/>
<rect x="1074" y="332" width="3" height="10" fill="#00ff7f"/>
<rect x="1079" y="307" width="1" height="59" fill="#ff0000"/>
<rect x="1078" y="315" width="3" height="27" fill="#ff0000"/>
<rect x="1083" y="286" width="1" height="36" fill="#ff0000"/>
<rect x="1082" y="305" width="3" height="10" fill="#ff0000"/>
<rect x="1087" y="276" width="1" height="38" fill="#00ff7f"/>
<rect x="1086" y="306" width="3" height="1" fill="#00ff7f"/>
<rect x="1091" y="309" width="1" height="5" fill="#00ff7f"/>
<rect x="1090" y="310" width="3" height="2" fill="#00ff7f"/>
<rect x="1095" y="286" width="1" height="40" fill="#ff0000"/>
<rect x="1094" y="305" width="3" height="7" fill="#ff0000"/>
<rect x="1099" y="261" width="1" height="61" fill="#ff0000"/>
<rect x="1098" y="267" width="3" height="38" fill="#ff0000"/>
<rect x="1103" y="231" width="1" height="41" fill="#ff0000"/>
<rect x="1102" y="248" width="3" height="20" fill="#ff0000"/>
<rect x="1107" y="248" width="1" height="54" fill="#00ff7f"/>
<rect x="1106" y="248" width="3" height="48" fill="#00ff7f"/>
<rect x="1111" y="271" width="1" height="39" fill="#00ff7f"/>
<rect x="1110" y="296" width="3" height="13" fill="#00ff7f"/>
<rect x="1115" y="302" width="1" height="4" fill="#ff0000"/>
<rect x="1114" y="302" width="3" height="3" fill="#ff0000"/>
<rect x="1119" y="284" width="1" height="20" fill="#ff0000"/>
<rect x="1118" y="292" width="3" height="12" fill="#ff0000"/>
<rect x="1123" y="260" width="1" height="62" fill="#00ff7f"/>
<rect x="1122" y="292" width="3" height="12" fill="#00ff7f"/>
<rect x="1127" y="296" width="1" height="12" fill="#ff0000"/>
<rect x="1126" y="298" width="3" height="7" fill="#ff0000"/>
<polyline points="3.5,397.2 7.5,397.3 11.5,397.5 15.5,398.6 19.5,399.5 23.5,401.3 27.5,401.9 31.5,404.0 35.5,410.5 39.5,420.3 43.5,431.0 47.5,440.9 51.5,448.3 55.5,453.4 59.5,456.7 63.5,458.7 67.5,460.2 71.5,462.5 75.5,462.0 79.5,461.8 83.5,459.7 87.5,456.8 91.5,454.5 95.5,454.2 99.5,451.1 103.5,447.7 107.5,443.4 111.5,441.6 115.5,439.9 119.5,435.6 123.5,430.0 127.5,423.0 131.5,415.8 135.5,410.0 139.5,404.3 143.5,399.6 147.5,393.9 151.5,390.1 155.5,385.4 159.5,384.1 163.5,382.0 167.5,380.2 171.5,377.8 175.5,373.7 179.5,366.3 183.5,361.9 187.5,357.5 191.5,354.6 195.5,350.7 199.5,348.7 203.5,346.5 207.5,343.8 211.5,341.0 215.5,335.2 219.5,331.8 223.5,330.2 227.5,327.0 231.5,325.1 235.5,320.8 239.5,315.9 243.5,311.1 247.5,306.7 251.5,301.9 255.5,297.7 259.5,296.3 263.5,295.0 267.5,290.4 271.5,286.5 275.5,284.9 279.5,282.7 283.5,276.6 287.5,270.8 291.5,265.3 295.5,260.6 299.5,258.8 303.5,254.3 307.5,248.3 311.5,242.3 315.5,235.6 319.5,229.1 323.5,221.2 327.5,212.5 331.5,204.1 335.5,196.2 339.5,188.0 343.5,176.6 347.5,166.3 351.5,159.3 355.5,153.1 359.5,143.8 363.5,135.7 367.5,133.5 371.5,133.1 375.5,132.7 379.5,134.2 383.5,137.7 387.5,142.4 391.5,147.1 395.5,152.0 399.5,157.5 403.5,163.5 407.5,172.4 411.5,181.5 415.5,189.8 419.5,198.2 423.5,206.1 427.5,214.8 431.5,222.4 435.5,229.9 439.5,237.2 443.5,247.9 447.5,259.0 451.5,264.8 455.5,268.1 459.5,274.1 463.5,278.7 467.5,282.9 471.5,285.9 475.5,289.2 479.5,293.1 483.5,294.6 487.5,293.7 491.5,293.4 495.5,292.9 499.5,292.3 503.5,293.5 507.5,294.0 511.5,294.0 515.5,296.9 519.5,299.8 523.5,303.0 527.5,303.4 531.5,304.8 535.5,305.7 539.5,309.3 543.5,309.6 547.5,308.0 551.5,306.0 555.5,304.8 559.5,303.5 563.5,298.9 567.5,297.0 571.5,297.0 575.5,294.7 579.5,290.2 583.5,286.4 587.5,281.5 591.5,277.0 595.5,274.7 599.5,271.8 603.5,270.2 607.5,267.7 611.5,264.0 615.5,259.4 619.5,256.5 623.5,251.5 627.5,247.2 631.5,242.3 635.5,235.4 639.5,229.7 643.5,223.6 647.5,221.4 651.5,217.9 655.5,214.7 659.5,214.9 663.5,217.4 667.5,221.0 671.5,222.8 675.5,224.8 679.5,225.4 683.5,224.5 687.5,222.6 691.5,222.9 695.5,223.3 699.5,223.9 703.5,222.8 707.5,222.6 711.5,221.3 715.5,221.4 719.5,222.8 723.5,223.0 727.5,223.6 731.5,223.6 735.5,225.4 739.5,225.5 743.5,221.7 747.5,218.2 751.5,214.3 755.5,211.1 759.5,208.2 763.5,207.6 767.5,206.3 771.5,203.7 775.5,200.5 779.5,196.7 783.5,193.2 787.5,190.7 791.5,186.9 795.5,183.3 799.5,181.9 803.5,179.8 807.5,176.4 811.5,173.9 815.5,172.3 819.5,169.1 823.5,168.7 827.5,170.0 831.5,171.4 835.5,173.0 839.5,173.6 843.5,173.0 847.5,171.6 851.5,171.6 855.5,172.5 859.5,170.9 863.5,169.8 867.5,167.5 871.5,166.3 875.5,165.0 879.5,165.6 883.5,166.4 887.5,167.0 891.5,170.3 895.5,175.4 899.5,180.0 903.5,185.3 907.5,189.7 911.5,192.7 915.5,195.4 919.5,194.9 923.5,195.6 927.5,197.3 931.5,199.2 935.5,203.6 939.5,210.4 943.5,218.0 947.5,226.5 951.5,236.0 955.5,245.2 959.5,255.9 963.5,265.3 967.5,273.7 971.5,282.6 975.5,288.5 979.5,293.3 983.5,299.0 987.5,304.8 991.5,310.1 995.5,317.0 999.5,323.0 1003.5,330.8 1007.5,340.0 1011.5,349.2 1015.5,358.3 1019.5,364.8 1023.5,368.4 1027.5,371.6 1031.5,375.5 1035.5,379.4 1039.5,382.5 1043.5,384.3 1047.5,383.3 1051.5,381.6 1055.5,380.3 1059.5,379.5 1063.5,377.5 1067.5,374.4 1071.5,371.3 1075.5,369.6 1079.5,366.5 1083.5,363.5 1087.5,361.3 1091.5,357.8 1095.5,353.9 1099.5,347.1 1103.5,339.6 1107.5,334.7 1111.5,331.5 1115.5,327.1 1119.5,321.6 1123.5,317.4 1127.5,312.9" fill="none" stroke="#ffff00" stroke-width="1" />
<polyline points="3.5,382.0 7.5,392.2 11.5,403.4 15.5,415.4 19.5,425.0 23.5,433.1 27.5,436.0 31.5,437.1 35.5,441.2 39.5,448.2 43.5,456.6 47.5,465.1 51.5,470.9 55.5,473.1 59.5,472.0 63.5,470.4 67.5,469.1 71.5,468.2 75.5,464.1 79.5,461.2 83.5,460.7 87.5,461.2 91.5,458.2 95.5,454.2 99.5,445.6 103.5,435.1 107.5,425.6 111.5,418.3 115.5,411.9 119.5,406.5 123.5,402.8 127.5,397.4 131.5,395.8 135.5,393.2 139.5,389.9 143.5,386.2 147.5,379.5 151.5,373.0 155.5,369.6 159.5,368.9 163.5,369.1 167.5,368.6 171.5,368.0 175.5,365.4 179.5,358.8 183.5,354.0 187.5,347.7 191.5,342.6 195.5,337.8 199.5,335.6 203.5,335.4 207.5,333.3 211.5,330.8 215.5,322.4 219.5,317.9 223.5,314.9 227.5,310.0 231.5,306.7 235.5,304.8 239.5,300.5 243.5,299.3 247.5,297.2 251.5,295.5 255.5,291.5 259.5,290.1 263.5,285.7 267.5,278.2 271.5,274.7 275.5,272.3 279.5,266.7 283.5,260.0 287.5,254.0 291.5,250.0 295.5,247.8 299.5,243.9 303.5,239.3 307.5,234.4 311.5,226.9 315.5,215.7 319.5,205.9 323.5,196.6 327.5,188.3 331.5,175.9 335.5,165.7 339.5,158.6 343.5,148.8 347.5,137.2 351.5,126.2 355.5,116.1 359.5,106.6 363.5,97.7 367.5,96.9 371.5,100.2 375.5,105.5 379.5,117.4 383.5,131.7 387.5,146.8 391.5,160.8 395.5,172.9 399.5,187.0 403.5,201.6 407.5,216.3 411.5,231.0 415.5,244.9 419.5,259.4 423.5,267.5 427.5,271.3 431.5,271.8 435.5,269.7 439.5,265.4 443.5,264.9 447.5,265.6 451.5,266.0 455.5,266.0 459.5,271.5 463.5,276.9 467.5,283.7 471.5,291.0 475.5,297.3 479.5,303.4 483.5,306.7 487.5,308.5 491.5,311.6 495.5,314.5 499.5,311.4 503.5,311.1 507.5,311.3 511.5,310.3 515.5,305.9 519.5,301.3 523.5,295.6 527.5,291.2 531.5,289.0 535.5,284.9 539.5,288.0 543.5,295.3 547.5,298.8 551.5,303.4 555.5,309.8 559.5,312.4 563.5,310.7 567.5,311.2 571.5,308.6 575.5,303.9 579.5,295.3 583.5,285.8 587.5,276.1 591.5,268.3 595.5,258.3 599.5,249.2 603.5,244.6 607.5,238.0 611.5,230.0 615.5,222.8 619.5,221.3 623.5,219.7 627.5,220.7 631.5,220.2 635.5,221.3 639.5,224.9 643.5,225.6 647.5,227.2 651.5,226.1 655.5,223.1 659.5,220.9 663.5,219.9 667.5,221.3 671.5,221.2 675.5,220.9 679.5,219.2 683.5,215.1 687.5,215.0 691.5,219.2 695.5,220.4 699.5,223.4 703.5,223.4 707.5,226.6 711.5,230.6 715.5,229.9 719.5,229.4 723.5,227.8 727.5,226.7 731.5,225.3 735.5,226.1 739.5,224.5 743.5,219.6 747.5,212.9 751.5,207.7 755.5,202.0 759.5,198.9 763.5,196.8 767.5,192.6 771.5,188.5 775.5,185.8 779.5,180.9 783.5,177.8 787.5,174.1 791.5,168.9 795.5,167.4 799.5,170.3 803.5,171.7 807.5,170.9 811.5,170.9 815.5,171.4 819.5,168.4 823.5,168.1 827.5,169.1 831.5,169.3 835.5,172.1 839.5,172.5 843.5,172.5 847.5,173.8 851.5,175.0 855.5,174.5 859.5,172.5 863.5,171.1 867.5,168.2 871.5,165.0 875.5,162.6 879.5,162.7 883.5,164.8 887.5,165.1 891.5,167.0 895.5,173.6 899.5,181.8 903.5,189.0 907.5,195.2 911.5,199.4 915.5,205.9 919.5,209.8 923.5,214.7 927.5,219.1 931.5,225.2 935.5,232.0 939.5,240.4 943.5,249.0 947.5,255.3 951.5,259.1 955.5,262.8 959.5,268.6 963.5,276.1 967.5,286.4 971.5,295.9 975.5,307.4 979.5,320.1 983.5,334.4 987.5,347.4 991.5,355.0 995.5,359.2 999.5,363.4 1003.5,366.3 1007.5,370.6 1011.5,375.1 1015.5,378.8 1019.5,381.1 1023.5,382.4 1027.5,382.6 1031.5,385.8 1035.5,388.3 1039.5,388.1 1043.5,387.7 1047.5,386.0 1051.5,383.4 1055.5,381.8 1059.5,380.4 1063.5,376.4 1067.5,372.3 1071.5,366.8 1075.5,362.3 1079.5,356.4 1083.5,351.3 1087.5,345.0 1091.5,338.2 1095.5,332.0 1099.5,323.0 1103.5,315.5 1107.5,312.0 1111.5,309.4 1115.5,307.1 1119.5,304.5 1123.5,302.6 1127.5,300.2" fill="none" stroke="#ff0000" stroke-width="1" />
<polyline points="3.5,426.1 7.5,435.3 11.5,442.5 15.5,451.0 19.5,457.6 23.5,462.9 27.5,457.8 31.5,448.0 35.5,447.0 39.5,454.0 43.5,462.1 47.5,472.7 51.5,478.9 55.5,488.4 59.5,495.9 63.5,493.8 67.5,484.2 71.5,474.3 75.5,455.6 79.5,443.6 83.5,433.1 87.5,426.4 91.5,422.6 95.5,424.3 99.5,416.8 103.5,414.7 107.5,407.7 111.5,403.4 115.5,397.4 119.5,390.3 123.5,381.4 127.5,377.9 131.5,377.0 135.5,378.6 139.5,376.4 143.5,374.9 147.5,368.6 151.5,364.7 155.5,361.4 159.5,360.7 163.5,359.5 167.5,360.7 171.5,361.0 175.5,362.1 179.5,352.9 183.5,346.6 187.5,334.7 191.5,325.7 195.5,314.9 199.5,310.1 203.5,308.8 207.5,313.7 211.5,314.9 215.5,310.0 219.5,310.1 223.5,314.8 227.5,309.9 231.5,304.5 235.5,295.9 239.5,286.1 243.5,288.5 247.5,284.4 251.5,276.1 255.5,273.1 259.5,275.6 263.5,275.5 267.5,270.2 271.5,260.8 275.5,260.3 279.5,257.2 283.5,246.9 287.5,232.3 291.5,224.5 295.5,225.4 299.5,227.0 303.5,218.3 307.5,211.6 311.5,206.9 315.5,199.0 319.5,187.2 323.5,167.9 327.5,149.7 331.5,133.6 335.5,119.7 339.5,110.3 343.5,98.6 347.5,87.2 351.5,84.5 355.5,82.6 359.5,79.6 363.5,75.8 367.5,83.4 371.5,101.9 375.5,123.7 379.5,150.3 383.5,180.9 387.5,214.1 391.5,245.7 395.5,262.4 399.5,272.2 403.5,279.5 407.5,282.4 411.5,281.2 415.5,275.7 419.5,273.0 423.5,272.6 427.5,270.5 431.5,264.1 435.5,257.1 439.5,249.7 443.5,254.0 447.5,258.2 451.5,259.4 455.5,261.5 459.5,278.9 463.5,296.7 467.5,317.8 471.5,328.0 475.5,336.5 479.5,347.4 483.5,351.9 487.5,338.2 491.5,326.4 495.5,311.2 499.5,294.8 503.5,285.7 507.5,275.3 511.5,268.7 515.5,273.7 519.5,276.2 523.5,279.9 527.5,287.5 531.5,292.2 535.5,294.5 539.5,307.3 543.5,316.9 547.5,321.4 551.5,326.9 555.5,332.1 559.5,332.6 563.5,326.9 567.5,315.0 571.5,300.3 575.5,286.4 579.5,263.7 583.5,239.5 587.5,219.5 591.5,209.7 595.5,201.6 599.5,198.0 603.5,202.8 607.5,212.4 611.5,220.5 615.5,226.0 619.5,232.8 623.5,237.8 627.5,243.4 631.5,237.6 635.5,230.2 639.5,229.2 643.5,225.1 647.5,221.7 651.5,214.4 655.5,202.8 659.5,204.2 663.5,209.7 667.5,213.3 671.5,217.3 675.5,220.1 679.5,224.0 683.5,227.3 687.5,225.8 691.5,228.8 695.5,227.5 699.5,229.4 703.5,226.8 707.5,229.3 711.5,233.9 715.5,234.1 719.5,230.0 723.5,228.2 727.5,224.0 731.5,223.8 735.5,222.9 739.5,215.2 743.5,205.2 747.5,195.9 751.5,187.2 755.5,179.9 759.5,174.0 763.5,170.7 767.5,170.0 771.5,171.9 775.5,175.6 779.5,174.6 783.5,175.6 787.5,174.1 791.5,167.1 795.5,164.8 799.5,168.7 803.5,167.8 807.5,167.3 811.5,166.2 815.5,168.7 819.5,169.6 823.5,171.5 827.5,169.5 831.5,170.8 835.5,177.0 839.5,178.8 843.5,176.2 847.5,178.0 851.5,178.6 855.5,179.4 859.5,174.2 863.5,165.1 867.5,157.5 871.5,153.8 875.5,147.2 879.5,146.7 883.5,150.3 887.5,155.9 891.5,168.8 895.5,189.8 899.5,209.8 903.5,230.7 907.5,243.8 911.5,248.4 915.5,255.9 919.5,250.8 923.5,239.5 927.5,228.3 931.5,219.6 935.5,220.2 939.5,232.4 943.5,242.0 947.5,259.8 951.5,278.7 955.5,297.4 959.5,317.5 963.5,332.0 967.5,340.3 971.5,349.7 975.5,355.0 979.5,361.6 983.5,371.4 987.5,377.4 991.5,377.9 995.5,378.1 999.5,377.1 1003.5,377.7 1007.5,379.6 1011.5,378.7 1015.5,380.2 1019.5,384.3 1023.5,386.7 1027.5,388.0 1031.5,393.9 1035.5,397.0 1039.5,397.5 1043.5,395.3 1047.5,387.6 1051.5,380.2 1055.5,375.6 1059.5,366.9 1063.5,355.7 1067.5,347.1 1071.5,338.4 1075.5,337.0 1079.5,332.6 1083.5,326.9 1087.5,323.0 1091.5,320.6 1095.5,317.0 1099.5,307.6 1103.5,294.1 1107.5,291.3 1111.5,291.9 1115.5,291.2 1119.5,288.4 1123.5,288.2 1127.5,292.7" fill="none" stroke="#0000ff" stroke-width="1" />
</g>
<rect x="3" y="187" width="1416" height="3" fill="#ff0000"/>
<rect x="1420" y="182" width="41" height="11" fill="#ff0000"/>
<text x="1424" y="191" font-family="Liberation Sans, sans-serif" font-size="9.33" fill="#fff" letter-spacing="-0.2">1.34206</text>
<rect x="3" y="272" width="1416" height="3" fill="#ff0000"/>
<rect x="1420" y="267" width="41" height="11" fill="#ff0000"/>
<text x="1424" y="276" font-family="Liberation Sans, sans-serif" font-size="9.33" fill="#fff" letter-spacing="-0.2">1.32701</text>
<rect x="3" y="322" width="1416" height="3" fill="#00ff00"/>
<rect x="1420" y="317" width="41" height="11" fill="#00ff00"/>
<text x="1424" y="326" font-family="Liberation Sans, sans-serif" font-size="9.33" fill="#fff" letter-spacing="-0.2">1.31801</text>
<rect x="3" y="424" width="1416" height="3" fill="#0000ff"/>
<rect x="1420" y="419" width="41" height="11" fill="#0000ff"/>
<text x="1424" y="428" font-family="Liberation Sans, sans-serif" font-size="9.33" fill="#fff" letter-spacing="-0.2">1.30004</text>
<rect x="3" y="619" width="1" height="11" fill="#c0c0c0"/>
<rect x="7" y="619" width="1" height="15" fill="#c0c0c0"/>
<rect x="11" y="619" width="1" height="18" fill="#c0c0c0"/>
<rect x="15" y="619" width="1" height="20" fill="#c0c0c0"/>
<rect x="19" y="619" width="1" height="19" fill="#c0c0c0"/>
<rect x="23" y="619" width="1" height="19" fill="#c0c0c0"/>
<rect x="27" y="619" width="1" height="15" fill="#c0c0c0"/>
<rect x="31" y="619" width="1" height="12" fill="#c0c0c0"/>
<rect x="35" y="619" width="1" height="14" fill="#c0c0c0"/>
<rect x="39" y="619" width="1" height="19" fill="#c0c0c0"/>
<rect x="43" y="619" width="1" height="24" fill="#c0c0c0"/>
<rect x="47" y="619" width="1" height="27" fill="#c0c0c0"/>
<rect x="51" y="619" width="1" height="26" fill="#c0c0c0"/>
<rect x="55" y="619" width="1" height="24" fill="#c0c0c0"/>
<rect x="59" y="619" width="1" height="21" fill="#c0c0c0"/>
<rect x="63" y="619" width="1" height="18" fill="#c0c0c0"/>
<rect x="67" y="619" width="1" height="16" fill="#c0c0c0"/>
<rect x="71" y="619" width="1" height="14" fill="#c0c0c0"/>
<rect x="75" y="619" width="1" height="8" fill="#c0c0c0"/>
<rect x="79" y="619" width="1" height="4" fill="#c0c0c0"/>
<rect x="87" y="618" width="1" height="2" fill="#c0c0c0"/>
<rect x="91" y="618" width="1" height="2" fill="#c0c0c0"/>
<rect x="99" y="618" width="1" height="2" fill="#c0c0c0"/>
<rect x="103" y="614" width="1" height="6" fill="#c0c0c0"/>
<rect x="107" y="609" width="1" height="11" fill="#c0c0c0"/>
<rect x="111" y="607" width="1" height="13" fill="#c0c0c0"/>
<rect x="115" y="605" width="1" height="15" fill="#c0c0c0"/>
<rect x="119" y="604" width="1" height="16" fill="#c0c0c0"/>
<rect x="123" y="606" width="1" height="14" fill="#c0c0c0"/>
<rect x="127" y="606" width="1" height="14" fill="#c0c0c0"/>
<rect x="131" y="605" width="1" height="15" fill="#c0c0c0"/>
<rect x="135" y="604" width="1" height="16" fill="#c0c0c0"/>
<rect x="139" y="603" width="1" height="17" fill="#c0c0c0"/>
<rect x="143" y="602" width="1" height="18" fill="#c0c0c0"/>
<rect x="147" y="600" width="1" height="20" fill="#c0c0c0"/>
<rect x="151" y="602" width="1" height="18" fill="#c0c0c0"/>
<rect x="155" y="602" width="1" height="18" fill="#c0c0c0"/>
<rect x="159" y="603" width="1" height="17" fill="#c0c0c0"/>
<rect x="163" y="604" width="1" height="16" fill="#c0c0c0"/>
<rect x="167" y="605" width="1" height="15" fill="#c0c0c0"/>
<rect x="171" y="605" width="1" height="15" fill="#c0c0c0"/>
<rect x="175" y="605" width="1" height="15" fill="#c0c0c0"/>
<rect x="179" y="602" width="1" height="18" fill="#c0c0c0"/>
<rect x="183" y="600" width="1" height="20" fill="#c0c0c0"/>
<rect x="187" y="597" width="1" height="23" fill="#c0c0c0"/>
<rect x="191" y="596" width="1" height="24" fill="#c0c0c0"/>
<rect x="195" y="594" width="1" height="26" fill="#c0c0c0"/>
<rect x="199" y="596" width="1" height="24" fill="#c0c0c0"/>
<rect x="203" y="598" width="1" height="22" fill="#c0c0c0"/>
<rect x="207" y="601" width="1" height="19" fill="#c0c0c0"/>
<rect x="211" y="602" width="1" height="18" fill="#c0c0c0"/>
<rect x="215" y="598" width="1" height="22" fill="#c0c0c0"/>
<rect x="219" y="598" width="1" height="22" fill="#c0c0c0"/>
<rect x="223" y="600" width="1" height="20" fill="#c0c0c0"/>
<rect x="227" y="600" width="1" height="20" fill="#c0c0c0"/>
<rect x="231" y="600" width="1" height="20" fill="#c0c0c0"/>
<rect x="235" y="600" width="1" height="20" fill="#c0c0c0"/>
<rect x="239" y="598" width="1" height="22" fill="#c0c0c0"/>
<rect x="243" y="597" width="1" height="23" fill="#c0c0c0"/>
<rect x="247" y="597" width="1" height="23" fill="#c0c0c0"/>
<rect x="251" y="597" width="1" height="23" fill="#c0c0c0"/>
<rect x="255" y="598" width="1" height="22" fill="#c0c0c0"/>
<rect x="259" y="602" width="1" height="18" fill="#c0c0c0"/>
<rect x="263" y="602" width="1" height="18" fill="#c0c0c0"/>
<rect x="267" y="599" width="1" height="21" fill="#c0c0c0"/>
<rect x="271" y="595" width="1" height="25" fill="#c0c0c0"/>
<rect x="275" y="597" width="1" height="23" fill="#c0c0c0"/>
<rect x="279" y="597" width="1" height="23" fill="#c0c0c0"/>
<rect x="283" y="594" width="1" height="26" fill="#c0c0c0"/>
<rect x="287" y="593" width="1" height="27" fill="#c0c0c0"/>
<rect x="291" y="594" width="1" height="26" fill="#c0c0c0"/>
<rect x="295" y="594" width="1" height="26" fill="#c0c0c0"/>
<rect x="299" y="594" width="1" height="26" fill="#c0c0c0"/>
<rect x="303" y="594" width="1" height="26" fill="#c0c0c0"/>
<rect x="307" y="593" width="1" height="27" fill="#c0c0c0"/>
<rect x="311" y="591" width="1" height="29" fill="#c0c0c0"/>
<rect x="315" y="588" width="1" height="32" fill="#c0c0c0"/>
<rect x="319" y="586" width="1" height="34" fill="#c0c0c0"/>
<rect x="323" y="581" width="1" height="39" fill="#c0c0c0"/>
<rect x="327" y="577" width="1" height="43" fill="#c0c0c0"/>
<rect x="331" y="575" width="1" height="45" fill="#c0c0c0"/>
<rect x="335" y="573" width="1" height="47" fill="#c0c0c0"/>
<rect x="339" y="574" width="1" height="46" fill="#c0c0c0"/>
<rect x="343" y="572" width="1" height="48" fill="#c0c0c0"/>
<rect x="347" y="571" width="1" height="49" fill="#c0c0c0"/>
<rect x="351" y="571" width="1" height="49" fill="#c0c0c0"/>
<rect x="355" y="572" width="1" height="48" fill="#c0c0c0"/>
<rect x="359" y="573" width="1" height="47" fill="#c0c0c0"/>
<rect x="363" y="574" width="1" height="46" fill="#c0c0c0"/>
<rect x="367" y="582" width="1" height="38" fill="#c0c0c0"/>
<rect x="371" y="592" width="1" height="28" fill="#c0c0c0"/>
<rect x="375" y="601" width="1" height="19" fill="#c0c0c0"/>
<rect x="379" y="612" width="1" height="8" fill="#c0c0c0"/>
<rect x="383" y="619" width="1" height="2" fill="#c0c0c0"/>
<rect x="387" y="619" width="1" height="12" fill="#c0c0c0"/>
<rect x="391" y="619" width="1" height="18" fill="#c0c0c0"/>
<rect x="395" y="619" width="1" height="21" fill="#c0c0c0"/>
<rect x="399" y="619" width="1" height="24" fill="#c0c0c0"/>
<rect x="403" y="619" width="1" height="25" fill="#c0c0c0"/>
<rect x="407" y="619" width="1" height="27" fill="#c0c0c0"/>
<rect x="411" y="619" width="1" height="27" fill="#c0c0c0"/>
<rect x="415" y="619" width="1" height="27" fill="#c0c0c0"/>
<rect x="419" y="619" width="1" height="27" fill="#c0c0c0"/>
<rect x="423" y="619" width="1" height="26" fill="#c0c0c0"/>
<rect x="427" y="619" width="1" height="24" fill="#c0c0c0"/>
<rect x="431" y="619" width="1" height="20" fill="#c0c0c0"/>
<rect x="435" y="619" width="1" height="17" fill="#c0c0c0"/>
<rect x="439" y="619" width="1" height="14" fill="#c0c0c0"/>
<rect x="443" y="619" width="1" height="17" fill="#c0c0c0"/>
<rect x="447" y="619" width="1" height="19" fill="#c0c0c0"/>
<rect x="451" y="619" width="1" height="19" fill="#c0c0c0"/>
<rect x="455" y="619" width="1" height="19" fill="#c0c0c0"/>
<rect x="459" y="619" width="1" height="23" fill="#c0c0c0"/>
<rect x="463" y="619" width="1" height="27" fill="#c0c0c0"/>
<rect x="467" y="619" width="1" height="32" fill="#c0c0c0"/>
<rect x="471" y="619" width="1" height="34" fill="#c0c0c0"/>
<rect x="475" y="619" width="1" height="35" fill="#c0c0c0"/>
<rect x="479" y="619" width="1" height="35" fill="#c0c0c0"/>
<rect x="483" y="619" width="1" height="31" fill="#c0c0c0"/>
<rect x="487" y="619" width="1" height="23" fill="#c0c0c0"/>
<rect x="491" y="619" width="1" height="19" fill="#c0c0c0"/>
<rect x="495" y="619" width="1" height="15" fill="#c0c0c0"/>
<rect x="499" y="619" width="1" height="10" fill="#c0c0c0"/>
<rect x="503" y="619" width="1" height="10" fill="#c0c0c0"/>
<rect x="507" y="619" width="1" height="8" fill="#c0c0c0"/>
<rect x="511" y="619" width="1" height="5" fill="#c0c0c0"/>
<rect x="515" y="619" width="1" height="5" fill="#c0c0c0"/>
<rect x="519" y="619" width="1" height="5" fill="#c0c0c0"/>
<rect x="523" y="619" width="1" height="5" fill="#c0c0c0"/>
<rect x="527" y="619" width="1" height="6" fill="#c0c0c0"/>
<rect x="531" y="619" width="1" height="9" fill="#c0c0c0"/>
<rect x="535" y="619" width="1" height="8" fill="#c0c0c0"/>
<rect x="539" y="619" width="1" height="11" fill="#c0c0c0"/>
<rect x="543" y="619" width="1" height="14" fill="#c0c0c0"/>
<rect x="547" y="619" width="1" height="14" fill="#c0c0c0"/>
<rect x="551" y="619" width="1" height="14" fill="#c0c0c0"/>
<rect x="555" y="619" width="1" height="15" fill="#c0c0c0"/>
<rect x="559" y="619" width="1" height="15" fill="#c0c0c0"/>
<rect x="563" y="619" width="1" height="9" fill="#c0c0c0"/>
<rect x="567" y="619" width="1" height="5" fill="#c0c0c0"/>
<rect x="575" y="615" width="1" height="5" fill="#c0c0c0"/>
<rect x="579" y="607" width="1" height="13" fill="#c0c0c0"/>
<rect x="583" y="601" width="1" height="19" fill="#c0c0c0"/>
<rect x="587" y="598" width="1" height="22" fill="#c0c0c0"/>
<rect x="591" y="596" width="1" height="24" fill="#c0c0c0"/>
<rect x="595" y="595" width="1" height="25" fill="#c0c0c0"/>
<rect x="599" y="597" width="1" height="23" fill="#c0c0c0"/>
<rect x="603" y="600" width="1" height="20" fill="#c0c0c0"/>
<rect x="607" y="602" width="1" height="18" fill="#c0c0c0"/>
<rect x="611" y="603" width="1" height="17" fill="#c0c0c0"/>
<rect x="615" y="604" width="1" height="16" fill="#c0c0c0"/>
<rect x="619" y="606" width="1" height="14" fill="#c0c0c0"/>
<rect x="623" y="607" width="1" height="13" fill="#c0c0c0"/>
<rect x="627" y="610" width="1" height="10" fill="#c0c0c0"/>
<rect x="631" y="609" width="1" height="11" fill="#c0c0c0"/>
<rect x="635" y="607" width="1" height="13" fill="#c0c0c0"/>
<rect x="639" y="607" width="1" height="13" fill="#c0c0c0"/>
<rect x="643" y="606" width="1" height="14" fill="#c0c0c0"/>
<rect x="647" y="606" width="1" height="14" fill="#c0c0c0"/>
<rect x="651" y="605" width="1" height="15" fill="#c0c0c0"/>
<rect x="655" y="604" width="1" height="16" fill="#c0c0c0"/>
<rect x="659" y="606" width="1" height="14" fill="#c0c0c0"/>
<rect x="663" y="608" width="1" height="12" fill="#c0c0c0"/>
<rect x="667" y="611" width="1" height="9" fill="#c0c0c0"/>
<rect x="671" y="613" width="1" height="7" fill="#c0c0c0"/>
<rect x="675" y="614" width="1" height="6" fill="#c0c0c0"/>
<rect x="679" y="614" width="1" height="6" fill="#c0c0c0"/>
<rect x="683" y="613" width="1" height="7" fill="#c0c0c0"/>
<rect x="687" y="613" width="1" height="7" fill="#c0c0c0"/>
<rect x="691" y="616" width="1" height="4" fill="#c0c0c0"/>
<rect x="695" y="617" width="1" height="3" fill="#c0c0c0"/>
<rect x="699" y="619" width="1" height="1" fill="#c0c0c0"/>
<rect x="703" y="618" width="1" height="2" fill="#c0c0c0"/>
<rect x="707" y="619" width="1" height="1" fill="#c0c0c0"/>
<rect x="711" y="619" width="1" height="1" fill="#c0c0c0"/>
<rect x="715" y="619" width="1" height="1" fill="#c0c0c0"/>
<rect x="719" y="618" width="1" height="2" fill="#c0c0c0"/>
<rect x="723" y="618" width="1" height="2" fill="#c0c0c0"/>
<rect x="727" y="618" width="1" height="2" fill="#c0c0c0"/>
<rect x="731" y="617" width="1" height="3" fill="#c0c0c0"/>
<rect x="735" y="618" width="1" height="2" fill="#c0c0c0"/>
<rect x="739" y="615" width="1" height="5" fill="#c0c0c0"/>
<rect x="743" y="610" width="1" height="10" fill="#c0c0c0"/>
<rect x="747" y="607" width="1" height="13" fill="#c0c0c0"/>
<rect x="751" y="606" width="1" height="14" fill="#c0c0c0"/>
<rect x="755" y="605" width="1" height="15" fill="#c0c0c0"/>
<rect x="759" y="604" width="1" height="16" fill="#c0c0c0"/>
<rect x="763" y="607" width="1" height="13" fill="#c0c0c0"/>
<rect x="767" y="607" width="1" height="13" fill="#c0c0c0"/>
<rect x="771" y="606" width="1" height="14" fill="#c0c0c0"/>
<rect x="775" y="607" width="1" height="13" fill="#c0c0c0"/>
<rect x="779" y="606" width="1" height="14" fill="#c0c0c0"/>
<rect x="783" y="607" width="1" height="13" fill="#c0c0c0"/>
<rect x="787" y="606" width="1" height="14" fill="#c0c0c0"/>
<rect x="791" y="606" width="1" height="14" fill="#c0c0c0"/>
<rect x="795" y="606" width="1" height="14" fill="#c0c0c0"/>
<rect x="799" y="608" width="1" height="12" fill="#c0c0c0"/>
<rect x="803" y="610" width="1" height="10" fill="#c0c0c0"/>
<rect x="807" y="609" width="1" height="11" fill="#c0c0c0"/>
<rect x="811" y="609" width="1" height="11" fill="#c0c0c0"/>
<rect x="815" y="611" width="1" height="9" fill="#c0c0c0"/>
<rect x="819" y="611" width="1" height="9" fill="#c0c0c0"/>
<rect x="823" y="612" width="1" height="8" fill="#c0c0c0"/>
<rect x="827" y="613" width="1" height="7" fill="#c0c0c0"/>
<rect x="831" y="614" width="1" height="6" fill="#c0c0c0"/>
<rect x="835" y="617" width="1" height="3" fill="#c0c0c0"/>
<rect x="839" y="617" width="1" height="3" fill="#c0c0c0"/>
<rect x="843" y="616" width="1" height="4" fill="#c0c0c0"/>
<rect x="847" y="616" width="1" height="4" fill="#c0c0c0"/>
<rect x="851" y="617" width="1" height="3" fill="#c0c0c0"/>
<rect x="855" y="617" width="1" height="3" fill="#c0c0c0"/>
<rect x="859" y="616" width="1" height="4" fill="#c0c0c0"/>
<rect x="863" y="613" width="1" height="7" fill="#c0c0c0"/>
<rect x="867" y="611" width="1" height="9" fill="#c0c0c0"/>
<rect x="871" y="609" width="1" height="11" fill="#c0c0c0"/>
<rect x="875" y="608" width="1" height="12" fill="#c0c0c0"/>
<rect x="879" y="611" width="1" height="9" fill="#c0c0c0"/>
<rect x="883" y="615" width="1" height="5" fill="#c0c0c0"/>
<rect x="887" y="618" width="1" height="2" fill="#c0c0c0"/>
<rect x="891" y="619" width="1" height="2" fill="#c0c0c0"/>
<rect x="895" y="619" width="1" height="9" fill="#c0c0c0"/>
<rect x="899" y="619" width="1" height="14" fill="#c0c0c0"/>
<rect x="903" y="619" width="1" height="19" fill="#c0c0c0"/>
<rect x="907" y="619" width="1" height="21" fill="#c0c0c0"/>
<rect x="911" y="619" width="1" height="21" fill="#c0c0c0"/>
<rect x="915" y="619" width="1" height="20" fill="#c0c0c0"/>
<rect x="919" y="619" width="1" height="16" fill="#c0c0c0"/>
<rect x="923" y="619" width="1" height="13" fill="#c0c0c0"/>
<rect x="927" y="619" width="1" height="10" fill="#c0c0c0"/>
<rect x="931" y="619" width="1" height="10" fill="#c0c0c0"/>
<rect x="935" y="619" width="1" height="13" fill="#c0c0c0"/>
<rect x="939" y="619" width="1" height="20" fill="#c0c0c0"/>
<rect x="943" y="619" width="1" height="23" fill="#c0c0c0"/>
<rect x="947" y="619" width="1" height="26" fill="#c0c0c0"/>
<rect x="951" y="619" width="1" height="29" fill="#c0c0c0"/>
<rect x="955" y="619" width="1" height="31" fill="#c0c0c0"/>
<rect x="959" y="619" width="1" height="35" fill="#c0c0c0"/>
<rect x="963" y="619" width="1" height="39" fill="#c0c0c0"/>
<rect x="967" y="619" width="1" height="41" fill="#c0c0c0"/>
<rect x="971" y="619" width="1" height="43" fill="#c0c0c0"/>
<rect x="975" y="619" width="1" height="42" fill="#c0c0c0"/>
<rect x="979" y="619" width="1" height="42" fill="#c0c0c0"/>
<rect x="983" y="619" width="1" height="43" fill="#c0c0c0"/>
<rect x="987" y="619" width="1" height="44" fill="#c0c0c0"/>
<rect x="991" y="619" width="1" height="43" fill="#c0c0c0"/>
<rect x="995" y="619" width="1" height="41" fill="#c0c0c0"/>
<rect x="999" y="619" width="1" height="39" fill="#c0c0c0"/>
<rect x="1003" y="619" width="1" height="35" fill="#c0c0c0"/>
<rect x="1007" y="619" width="1" height="35" fill="#c0c0c0"/>
<rect x="1011" y="619" width="1" height="34" fill="#c0c0c0"/>
<rect x="1015" y="619" width="1" height="35" fill="#c0c0c0"/>
<rect x="1019" y="619" width="1" height="34" fill="#c0c0c0"/>
<rect x="1023" y="619" width="1" height="33" fill="#c0c0c0"/>
<rect x="1027" y="619" width="1" height="30" fill="#c0c0c0"/>
<rect x="1031" y="619" width="1" height="29" fill="#c0c0c0"/>
<rect x="1035" y="619" width="1" height="29" fill="#c0c0c0"/>
<rect x="1039" y="619" width="1" height="27" fill="#c0c0c0"/>
<rect x="1043" y="619" width="1" height="26" fill="#c0c0c0"/>
<rect x="1047" y="619" width="1" height="21" fill="#c0c0c0"/>
<rect x="1051" y="619" width="1" height="17" fill="#c0c0c0"/>
<rect x="1055" y="619" width="1" height="13" fill="#c0c0c0"/>
<rect x="1059" y="619" width="1" height="9" fill="#c0c0c0"/>
<rect x="1063" y="619" width="1" height="6" fill="#c0c0c0"/>
<rect x="1067" y="619" width="1" height="3" fill="#c0c0c0"/>
<rect x="1071" y="619" width="1" height="1" fill="#c0c0c0"/>
<rect x="1075" y="619" width="1" height="1" fill="#c0c0c0"/>
<rect x="1079" y="618" width="1" height="2" fill="#c0c0c0"/>
<rect x="1083" y="615" width="1" height="5" fill="#c0c0c0"/>
<rect x="1087" y="613" width="1" height="7" fill="#c0c0c0"/>
<rect x="1091" y="612" width="1" height="8" fill="#c0c0c0"/>
<rect x="1095" y="611" width="1" height="9" fill="#c0c0c0"/>
<rect x="1099" y="607" width="1" height="13" fill="#c0c0c0"/>
<rect x="1103" y="603" width="1" height="17" fill="#c0c0c0"/>
<rect x="1107" y="603" width="1" height="17" fill="#c0c0c0"/>
<rect x="1111" y="605" width="1" height="15" fill="#c0c0c0"/>
<rect x="1115" y="606" width="1" height="14" fill="#c0c0c0"/>
<rect x="1119" y="606" width="1" height="14" fill="#c0c0c0"/>
<rect x="1123" y="607" width="1" height="13" fill="#c0c0c0"/>
<rect x="1127" y="608" width="1" height="12" fill="#c0c0c0"/>
<path fill="#ff0000" d="M3,616h1v1h-1zM4,617h1v1h-1zM5,618h1v1h-1zM9,622h1v1h-1zM10,622h1v1h-1zM11,623h1v1h-1zM15,626h1v1h-1zM16,627h1v1h-1zM17,628h1v1h-1zM21,630h1v1h-1zM22,631h1v1h-1zM23,631h1v1h-1zM27,633h1v1h-1zM28,633h1v1h-1zM29,634h1v1h-1zM33,635h1v1h-1zM34,635h1v1h-1zM35,635h1v1h-1zM39,636h1v1h-1zM40,636h1v1h-1zM41,637h1v1h-1zM45,638h1v1h-1zM46,638h1v1h-1zM47,638h1v1h-1zM51,638h1v1h-1zM52,638h1v1h-1zM53,639h1v1h-1zM57,639h1v1h-1zM58,639h1v1h-1zM59,639h1v1h-1zM63,640h1v1h-1zM64,640h1v1h-1zM65,640h1v1h-1zM69,640h1v1h-1zM70,640h1v1h-1zM71,640h1v1h-1zM75,639h1v1h-1zM76,638h1v1h-1zM77,638h1v1h-1zM81,635h1v1h-1zM82,635h1v1h-1zM83,634h1v1h-1zM87,631h1v1h-1zM88,630h1v1h-1zM89,629h1v1h-1zM93,626h1v1h-1zM94,626h1v1h-1zM95,625h1v1h-1zM99,623h1v1h-1zM100,622h1v1h-1zM101,622h1v1h-1zM105,619h1v1h-1zM106,619h1v1h-1zM107,618h1v1h-1zM111,615h1v1h-1zM112,614h1v1h-1zM113,614h1v1h-1zM117,612h1v1h-1zM118,612h1v1h-1zM119,612h1v1h-1zM123,610h1v1h-1zM124,610h1v1h-1zM125,609h1v1h-1zM129,608h1v1h-1zM130,607h1v1h-1zM131,607h1v1h-1zM135,606h1v1h-1zM136,605h1v1h-1zM137,605h1v1h-1zM141,604h1v1h-1zM142,604h1v1h-1zM143,604h1v1h-1zM147,603h1v1h-1zM148,603h1v1h-1zM149,603h1v1h-1zM153,602h1v1h-1zM154,602h1v1h-1zM155,602h1v1h-1zM159,602h1v1h-1zM160,602h1v1h-1zM161,602h1v1h-1zM165,602h1v1h-1zM166,602h1v1h-1zM167,602h1v1h-1zM171,602h1v1h-1zM172,602h1v1h-1zM173,602h1v1h-1zM177,602h1v1h-1zM178,602h1v1h-1zM179,602h1v1h-1zM183,602h1v1h-1zM184,602h1v1h-1zM185,602h1v1h-1zM189,601h1v1h-1zM190,601h1v1h-1zM191,601h1v1h-1zM195,600h1v1h-1zM196,600h1v1h-1zM197,599h1v1h-1zM201,598h1v1h-1zM202,598h1v1h-1zM203,598h1v1h-1zM207,598h1v1h-1zM208,598h1v1h-1zM209,598h1v1h-1zM213,597h1v1h-1zM214,597h1v1h-1zM215,597h1v1h-1zM219,597h1v1h-1zM220,597h1v1h-1zM221,597h1v1h-1zM225,598h1v1h-1zM226,598h1v1h-1zM227,598h1v1h-1zM231,598h1v1h-1zM232,598h1v1h-1zM233,599h1v1h-1zM237,599h1v1h-1zM238,599h1v1h-1zM239,599h1v1h-1zM243,598h1v1h-1zM244,598h1v1h-1zM245,598h1v1h-1zM249,598h1v1h-1zM250,598h1v1h-1zM251,598h1v1h-1zM255,598h1v1h-1zM256,598h1v1h-1zM257,598h1v1h-1zM261,598h1v1h-1zM262,598h1v1h-1zM263,598h1v1h-1zM267,598h1v1h-1zM268,598h1v1h-1zM269,597h1v1h-1zM273,597h1v1h-1zM274,597h1v1h-1zM275,597h1v1h-1zM279,597h1v1h-1zM280,597h1v1h-1zM281,597h1v1h-1zM285,596h1v1h-1zM286,596h1v1h-1zM287,596h1v1h-1zM291,596h1v1h-1zM292,596h1v1h-1zM293,595h1v1h-1zM297,594h1v1h-1zM298,594h1v1h-1zM299,594h1v1h-1zM303,594h1v1h-1zM304,594h1v1h-1zM305,593h1v1h-1zM309,593h1v1h-1zM310,593h1v1h-1zM311,593h1v1h-1zM315,592h1v1h-1zM316,592h1v1h-1zM317,591h1v1h-1zM321,590h1v1h-1zM322,590h1v1h-1zM323,590h1v1h-1zM327,588h1v1h-1zM328,587h1v1h-1zM329,587h1v1h-1zM333,584h1v1h-1zM334,584h1v1h-1zM335,583h1v1h-1zM339,581h1v1h-1zM340,580h1v1h-1zM341,580h1v1h-1zM345,577h1v1h-1zM346,577h1v1h-1zM347,576h1v1h-1zM351,575h1v1h-1zM352,574h1v1h-1zM353,574h1v1h-1zM357,572h1v1h-1zM358,572h1v1h-1zM359,572h1v1h-1zM363,572h1v1h-1zM364,572h1v1h-1zM365,573h1v1h-1zM369,574h1v1h-1zM370,575h1v1h-1zM371,575h1v1h-1zM375,578h1v1h-1zM376,579h1v1h-1zM377,580h1v1h-1zM380,584h1v1h-1zM381,585h1v1h-1zM382,586h1v1h-1zM384,590h1v1h-1zM385,591h1v1h-1zM385,592h1v1h-1zM388,596h1v1h-1zM388,597h1v1h-1zM389,598h1v1h-1zM391,602h1v1h-1zM392,603h1v1h-1zM392,604h1v1h-1zM394,608h1v1h-1zM395,609h1v1h-1zM395,610h1v1h-1zM397,614h1v1h-1zM398,615h1v1h-1zM398,616h1v1h-1zM401,620h1v1h-1zM401,621h1v1h-1zM402,622h1v1h-1zM404,626h1v1h-1zM405,627h1v1h-1zM406,628h1v1h-1zM409,632h1v1h-1zM409,633h1v1h-1zM410,634h1v1h-1zM414,638h1v1h-1zM415,639h1v1h-1zM416,640h1v1h-1zM420,643h1v1h-1zM421,643h1v1h-1zM422,644h1v1h-1zM426,644h1v1h-1zM427,644h1v1h-1zM428,644h1v1h-1zM432,644h1v1h-1zM433,643h1v1h-1zM434,643h1v1h-1zM438,642h1v1h-1zM439,642h1v1h-1zM440,642h1v1h-1zM444,641h1v1h-1zM445,640h1v1h-1zM446,640h1v1h-1zM450,639h1v1h-1zM451,639h1v1h-1zM452,639h1v1h-1zM456,638h1v1h-1zM457,638h1v1h-1zM458,638h1v1h-1zM462,639h1v1h-1zM463,639h1v1h-1zM464,639h1v1h-1zM468,641h1v1h-1zM469,641h1v1h-1zM470,642h1v1h-1zM474,644h1v1h-1zM475,644h1v1h-1zM476,645h1v1h-1zM480,646h1v1h-1zM481,647h1v1h-1zM482,647h1v1h-1zM486,648h1v1h-1zM487,648h1v1h-1zM488,648h1v1h-1zM492,648h1v1h-1zM493,647h1v1h-1zM494,647h1v1h-1zM498,645h1v1h-1zM499,645h1v1h-1zM500,644h1v1h-1zM504,642h1v1h-1zM505,641h1v1h-1zM506,641h1v1h-1zM510,638h1v1h-1zM511,637h1v1h-1zM512,636h1v1h-1zM516,632h1v1h-1zM517,631h1v1h-1zM518,631h1v1h-1zM522,628h1v1h-1zM523,628h1v1h-1zM524,628h1v1h-1zM528,627h1v1h-1zM529,626h1v1h-1zM530,626h1v1h-1zM534,626h1v1h-1zM535,626h1v1h-1zM536,626h1v1h-1zM540,626h1v1h-1zM541,627h1v1h-1zM542,627h1v1h-1zM546,627h1v1h-1zM547,627h1v1h-1zM548,628h1v1h-1zM552,629h1v1h-1zM553,630h1v1h-1zM554,630h1v1h-1zM558,631h1v1h-1zM559,631h1v1h-1zM560,631h1v1h-1zM564,631h1v1h-1zM565,631h1v1h-1zM566,631h1v1h-1zM570,630h1v1h-1zM571,630h1v1h-1zM572,629h1v1h-1zM576,627h1v1h-1zM577,626h1v1h-1zM578,626h1v1h-1zM582,622h1v1h-1zM583,621h1v1h-1zM584,620h1v1h-1zM588,616h1v1h-1zM589,615h1v1h-1zM590,614h1v1h-1zM594,610h1v1h-1zM595,609h1v1h-1zM596,608h1v1h-1zM600,604h1v1h-1zM601,603h1v1h-1zM602,603h1v1h-1zM606,600h1v1h-1zM607,600h1v1h-1zM608,600h1v1h-1zM612,599h1v1h-1zM613,599h1v1h-1zM614,599h1v1h-1zM618,599h1v1h-1zM619,599h1v1h-1zM620,599h1v1h-1zM624,601h1v1h-1zM625,601h1v1h-1zM626,602h1v1h-1zM630,603h1v1h-1zM631,603h1v1h-1zM632,604h1v1h-1zM636,605h1v1h-1zM637,605h1v1h-1zM638,605h1v1h-1zM642,606h1v1h-1zM643,606h1v1h-1zM644,606h1v1h-1zM648,606h1v1h-1zM649,606h1v1h-1zM650,606h1v1h-1zM654,606h1v1h-1zM655,606h1v1h-1zM656,606h1v1h-1zM660,606h1v1h-1zM661,606h1v1h-1zM662,606h1v1h-1zM666,606h1v1h-1zM667,606h1v1h-1zM668,606h1v1h-1zM672,606h1v1h-1zM673,607h1v1h-1zM674,607h1v1h-1zM678,608h1v1h-1zM679,608h1v1h-1zM680,608h1v1h-1zM684,609h1v1h-1zM685,610h1v1h-1zM686,610h1v1h-1zM690,611h1v1h-1zM691,611h1v1h-1zM692,611h1v1h-1zM696,613h1v1h-1zM697,613h1v1h-1zM698,614h1v1h-1zM702,614h1v1h-1zM703,614h1v1h-1zM704,614h1v1h-1zM708,615h1v1h-1zM709,616h1v1h-1zM710,616h1v1h-1zM714,616h1v1h-1zM715,616h1v1h-1zM716,616h1v1h-1zM720,617h1v1h-1zM721,617h1v1h-1zM722,617h1v1h-1zM726,617h1v1h-1zM727,617h1v1h-1zM728,617h1v1h-1zM732,617h1v1h-1zM733,617h1v1h-1zM734,617h1v1h-1zM738,617h1v1h-1zM739,617h1v1h-1zM740,617h1v1h-1zM744,615h1v1h-1zM745,615h1v1h-1zM746,614h1v1h-1zM750,613h1v1h-1zM751,613h1v1h-1zM752,613h1v1h-1zM756,611h1v1h-1zM757,611h1v1h-1zM758,610h1v1h-1zM762,609h1v1h-1zM763,609h1v1h-1zM764,609h1v1h-1zM768,607h1v1h-1zM769,607h1v1h-1zM770,606h1v1h-1zM774,605h1v1h-1zM775,605h1v1h-1zM776,605h1v1h-1zM780,605h1v1h-1zM781,605h1v1h-1zM782,605h1v1h-1zM786,605h1v1h-1zM787,605h1v1h-1zM788,605h1v1h-1zM792,605h1v1h-1zM793,605h1v1h-1zM794,605h1v1h-1zM798,606h1v1h-1zM799,606h1v1h-1zM800,606h1v1h-1zM804,606h1v1h-1zM805,606h1v1h-1zM806,606h1v1h-1zM810,606h1v1h-1zM811,606h1v1h-1zM812,606h1v1h-1zM816,607h1v1h-1zM817,607h1v1h-1zM818,607h1v1h-1zM822,608h1v1h-1zM823,608h1v1h-1zM824,608h1v1h-1zM828,609h1v1h-1zM829,610h1v1h-1zM830,610h1v1h-1zM834,611h1v1h-1zM835,611h1v1h-1zM836,611h1v1h-1zM840,611h1v1h-1zM841,612h1v1h-1zM842,612h1v1h-1zM846,613h1v1h-1zM847,613h1v1h-1zM848,613h1v1h-1zM852,614h1v1h-1zM853,614h1v1h-1zM854,614h1v1h-1zM858,615h1v1h-1zM859,615h1v1h-1zM860,615h1v1h-1zM864,615h1v1h-1zM865,614h1v1h-1zM866,614h1v1h-1zM870,614h1v1h-1zM871,614h1v1h-1zM872,614h1v1h-1zM876,613h1v1h-1zM877,612h1v1h-1zM878,612h1v1h-1zM882,612h1v1h-1zM883,612h1v1h-1zM884,612h1v1h-1zM888,612h1v1h-1zM889,613h1v1h-1zM890,613h1v1h-1zM894,614h1v1h-1zM895,614h1v1h-1zM896,615h1v1h-1zM900,618h1v1h-1zM901,619h1v1h-1zM902,619h1v1h-1zM906,622h1v1h-1zM907,623h1v1h-1zM908,624h1v1h-1zM912,628h1v1h-1zM913,629h1v1h-1zM914,629h1v1h-1zM918,632h1v1h-1zM919,632h1v1h-1zM920,633h1v1h-1zM924,634h1v1h-1zM925,635h1v1h-1zM926,635h1v1h-1zM930,635h1v1h-1zM931,635h1v1h-1zM932,635h1v1h-1zM936,635h1v1h-1zM937,635h1v1h-1zM938,635h1v1h-1zM942,635h1v1h-1zM943,635h1v1h-1zM944,635h1v1h-1zM948,636h1v1h-1zM949,637h1v1h-1zM950,637h1v1h-1zM954,639h1v1h-1zM955,639h1v1h-1zM956,640h1v1h-1zM960,642h1v1h-1zM961,643h1v1h-1zM962,643h1v1h-1zM966,647h1v1h-1zM967,648h1v1h-1zM968,649h1v1h-1zM972,652h1v1h-1zM973,652h1v1h-1zM974,653h1v1h-1zM978,655h1v1h-1zM979,656h1v1h-1zM980,656h1v1h-1zM984,658h1v1h-1zM985,658h1v1h-1zM986,659h1v1h-1zM990,660h1v1h-1zM991,660h1v1h-1zM992,660h1v1h-1zM996,661h1v1h-1zM997,661h1v1h-1zM998,661h1v1h-1zM1002,660h1v1h-1zM1003,660h1v1h-1zM1004,660h1v1h-1zM1008,659h1v1h-1zM1009,659h1v1h-1zM1010,659h1v1h-1zM1014,658h1v1h-1zM1015,658h1v1h-1zM1016,658h1v1h-1zM1020,657h1v1h-1zM1021,656h1v1h-1zM1022,656h1v1h-1zM1026,654h1v1h-1zM1027,654h1v1h-1zM1028,654h1v1h-1zM1032,653h1v1h-1zM1033,652h1v1h-1zM1034,652h1v1h-1zM1038,651h1v1h-1zM1039,651h1v1h-1zM1040,651h1v1h-1zM1044,649h1v1h-1zM1045,649h1v1h-1zM1046,648h1v1h-1zM1050,646h1v1h-1zM1051,646h1v1h-1zM1052,645h1v1h-1zM1056,643h1v1h-1zM1057,642h1v1h-1zM1058,642h1v1h-1zM1062,639h1v1h-1zM1063,639h1v1h-1zM1064,638h1v1h-1zM1068,635h1v1h-1zM1069,634h1v1h-1zM1070,634h1v1h-1zM1074,631h1v1h-1zM1075,630h1v1h-1zM1076,629h1v1h-1zM1080,626h1v1h-1zM1081,625h1v1h-1zM1082,625h1v1h-1zM1086,622h1v1h-1zM1087,621h1v1h-1zM1088,620h1v1h-1zM1092,618h1v1h-1zM1093,618h1v1h-1zM1094,617h1v1h-1zM1098,615h1v1h-1zM1099,615h1v1h-1zM1100,614h1v1h-1zM1104,611h1v1h-1zM1105,611h1v1h-1zM1106,610h1v1h-1zM1110,609h1v1h-1zM1111,609h1v1h-1zM1112,608h1v1h-1zM1116,607h1v1h-1zM1117,606h1v1h-1zM1118,606h1v1h-1zM1122,606h1v1h-1zM1123,606h1v1h-1zM1124,606h1v1h-1z"/>
<rect x="1419" y="566" width="2" height="1" fill="#000"/>
<text x="1422" y="575" font-family="Liberation Sans, sans-serif" font-size="9.33" fill="#000" letter-spacing="-0.2">0.010311</text>
<rect x="1419" y="619" width="2" height="1" fill="#000"/>
<text x="1422" y="623" font-family="Liberation Sans, sans-serif" font-size="9.33" fill="#000" letter-spacing="-0.2">0.00</text>
<rect x="1419" y="666" width="2" height="1" fill="#000"/>
<text x="1422" y="664" font-family="Liberation Sans, sans-serif" font-size="9.33" fill="#000" letter-spacing="-0.2">-0.009203</text>
<text x="7" y="577" font-family="Liberation Sans, sans-serif" font-size="9.3" fill="#000" >MACD(12,26,9) 0.002414 0.002706</text>
<line x1="3" y1="709.5" x2="1418" y2="709.5" stroke="#c0c0c0" stroke-width="1" stroke-dasharray="3 3" stroke-dashoffset="5"/>
<line x1="3" y1="760.5" x2="1418" y2="760.5" stroke="#c0c0c0" stroke-width="1" stroke-dasharray="3 3" stroke-dashoffset="5"/>
<polyline points="3.5,752.5 7.5,752.9 11.5,750.4 15.5,751.4 19.5,743.9 23.5,743.0 27.5,730.0 31.5,730.7 35.5,745.8 39.5,753.9 43.5,755.8 47.5,754.4 51.5,744.9 55.5,739.5 59.5,736.8 63.5,735.9 67.5,734.7 71.5,737.4 75.5,722.7 79.5,726.0 83.5,723.9 87.5,728.0 91.5,732.2 95.5,739.9 99.5,728.4 103.5,723.3 107.5,719.8 111.5,722.0 115.5,722.7 119.5,725.1 123.5,730.5 127.5,727.2 131.5,725.0 135.5,724.3 139.5,720.2 143.5,722.8 147.5,717.6 151.5,728.7 155.5,726.4 159.5,728.8 163.5,727.0 167.5,726.5 171.5,727.0 175.5,722.0 179.5,714.1 183.5,717.9 187.5,712.0 191.5,716.4 195.5,713.8 199.5,727.7 203.5,729.1 207.5,731.6 211.5,727.6 215.5,713.3 219.5,725.8 223.5,730.2 227.5,725.7 231.5,726.0 235.5,723.3 239.5,719.0 243.5,722.3 247.5,722.6 251.5,720.6 255.5,724.5 259.5,735.4 263.5,728.1 267.5,717.5 271.5,715.0 275.5,729.6 279.5,725.1 283.5,719.5 287.5,722.0 291.5,725.1 295.5,725.2 299.5,723.2 303.5,721.7 307.5,719.2 311.5,715.2 315.5,713.5 319.5,711.5 323.5,704.7 327.5,704.2 331.5,706.4 335.5,706.8 339.5,709.4 343.5,705.3 347.5,703.9 351.5,707.0 355.5,707.6 359.5,707.4 363.5,706.7 367.5,736.0 371.5,746.0 375.5,748.4 379.5,755.0 383.5,758.9 387.5,761.1 391.5,756.7 395.5,751.5 399.5,751.5 403.5,750.4 407.5,752.4 411.5,752.4 415.5,748.2 419.5,749.2 423.5,748.3 427.5,743.8 431.5,732.9 435.5,734.8 439.5,733.9 443.5,751.4 447.5,752.0 451.5,744.6 455.5,742.8 459.5,756.7 463.5,758.0 467.5,761.0 471.5,758.8 475.5,755.7 479.5,753.7 483.5,738.6 487.5,727.0 491.5,732.1 495.5,731.4 499.5,728.2 503.5,737.9 507.5,734.4 511.5,729.5 515.5,735.5 519.5,736.7 523.5,737.8 527.5,740.5 531.5,745.2 535.5,736.7 539.5,746.5 543.5,747.3 547.5,739.7 551.5,742.2 555.5,744.0 559.5,741.4 563.5,725.1 567.5,727.0 571.5,724.2 575.5,719.9 579.5,712.9 583.5,712.8 587.5,718.2 591.5,717.2 595.5,722.8 599.5,726.8 603.5,734.6 607.5,731.4 611.5,728.9 615.5,729.6 619.5,730.1 623.5,732.4 627.5,737.7 631.5,726.5 635.5,721.3 639.5,729.9 643.5,726.0 647.5,727.8 651.5,723.9 655.5,721.9 659.5,733.5 663.5,733.9 667.5,738.6 671.5,734.6 675.5,734.0 679.5,731.3 683.5,727.8 687.5,731.0 691.5,739.8 695.5,737.0 699.5,738.7 703.5,729.5 707.5,736.3 711.5,736.3 715.5,730.9 719.5,732.0 723.5,733.8 727.5,730.6 731.5,729.0 735.5,735.7 739.5,723.0 743.5,715.7 747.5,718.7 751.5,721.9 755.5,721.8 759.5,723.3 763.5,735.2 767.5,727.7 771.5,723.7 775.5,730.1 779.5,724.8 783.5,728.6 787.5,725.5 791.5,725.3 795.5,726.8 799.5,734.5 803.5,731.3 807.5,725.8 811.5,729.0 815.5,732.6 819.5,729.1 823.5,732.7 827.5,732.2 831.5,736.1 835.5,740.4 839.5,733.2 843.5,727.2 847.5,733.7 851.5,734.4 855.5,734.2 859.5,724.8 863.5,720.9 867.5,718.4 871.5,721.7 875.5,721.2 879.5,737.7 883.5,745.2 887.5,740.0 891.5,748.8 895.5,757.1 899.5,757.4 903.5,758.1 907.5,754.4 911.5,744.1 915.5,745.1 919.5,730.8 923.5,731.7 927.5,732.2 931.5,738.1 935.5,749.9 939.5,757.8 943.5,753.8 947.5,754.5 951.5,756.4 955.5,756.4 959.5,761.3 963.5,763.5 967.5,764.5 971.5,762.0 975.5,753.4 979.5,757.0 983.5,760.7 987.5,761.4 991.5,753.5 995.5,754.4 999.5,749.2 1003.5,744.7 1007.5,751.5 1011.5,752.1 1015.5,756.2 1019.5,755.1 1023.5,751.9 1027.5,744.1 1031.5,748.5 1035.5,751.2 1039.5,745.5 1043.5,746.0 1047.5,732.7 1051.5,730.9 1055.5,730.6 1059.5,727.4 1063.5,725.7 1067.5,726.5 1071.5,727.4 1075.5,731.6 1079.5,722.6 1083.5,719.7 1087.5,720.6 1091.5,722.7 1095.5,720.6 1099.5,710.3 1103.5,706.3 1107.5,726.0 1111.5,730.4 1115.5,728.4 1119.5,725.5 1123.5,729.7 1127.5,728.1" fill="none" stroke="#1e90ff" stroke-width="1" />
<rect x="1419" y="671" width="2" height="1" fill="#000"/>
<text x="1422" y="681" font-family="Liberation Sans, sans-serif" font-size="9.33" fill="#000" letter-spacing="-0.2">100</text>
<text x="1421" y="713" font-family="Liberation Sans, sans-serif" font-size="9.33" fill="#000" letter-spacing="-0.2">70</text>
<text x="1421" y="764" font-family="Liberation Sans, sans-serif" font-size="9.33" fill="#000" letter-spacing="-0.2">30</text>
<rect x="1419" y="798" width="2" height="1" fill="#000"/>
<text x="1422" y="796" font-family="Liberation Sans, sans-serif" font-size="9.33" fill="#000" letter-spacing="-0.2">0</text>
<text x="7" y="682" font-family="Liberation Sans, sans-serif" font-size="9.2" fill="#000" >RSI(14) 55.1357</text>
<rect x="3" y="800" width="1" height="3" fill="#000"/>
<text x="2.5" y="812" font-family="Liberation Sans, sans-serif" font-size="9.33" fill="#000" letter-spacing="-0.2">19 Sep 2018</text>
<rect x="67" y="800" width="1" height="3" fill="#000"/>
<text x="66.5" y="812" font-family="Liberation Sans, sans-serif" font-size="9.33" fill="#000" letter-spacing="-0.2">8 Oct 2018</text>
<rect x="131" y="800" width="1" height="3" fill="#000"/>
<text x="130.5" y="812" font-family="Liberation Sans, sans-serif" font-size="9.33" fill="#000" letter-spacing="-0.2">26 Oct 2018</text>
<rect x="195" y="800" width="1" height="3" fill="#000"/>
<text x="194.5" y="812" font-family="Liberation Sans, sans-serif" font-size="9.33" fill="#000" letter-spacing="-0.2">14 Nov 2018</text>
<rect x="259" y="800" width="1" height="3" fill="#000"/>
<text x="258.5" y="812" font-family="Liberation Sans, sans-serif" font-size="9.33" fill="#000" letter-spacing="-0.2">3 Dec 2018</text>
<rect x="323" y="800" width="1" height="3" fill="#000"/>
<text x="322.5" y="812" font-family="Liberation Sans, sans-serif" font-size="9.33" fill="#000" letter-spacing="-0.2">21 Dec 2018</text>
<rect x="387" y="800" width="1" height="3" fill="#000"/>
<text x="386.5" y="812" font-family="Liberation Sans, sans-serif" font-size="9.33" fill="#000" letter-spacing="-0.2">9 Jan 2019</text>
<rect x="451" y="800" width="1" height="3" fill="#000"/>
<text x="450.5" y="812" font-family="Liberation Sans, sans-serif" font-size="9.33" fill="#000" letter-spacing="-0.2">28 Jan 2019</text>
<rect x="515" y="800" width="1" height="3" fill="#000"/>
<text x="514.5" y="812" font-family="Liberation Sans, sans-serif" font-size="9.33" fill="#000" letter-spacing="-0.2">15 Feb 2019</text>
<rect x="579" y="800" width="1" height="3" fill="#000"/>
<text x="578.5" y="812" font-family="Liberation Sans, sans-serif" font-size="9.33" fill="#000" letter-spacing="-0.2">6 Mar 2019</text>
<rect x="643" y="800" width="1" height="3" fill="#000"/>
<text x="642.5" y="812" font-family="Liberation Sans, sans-serif" font-size="9.33" fill="#000" letter-spacing="-0.2">25 Mar 2019</text>
<rect x="707" y="800" width="1" height="3" fill="#000"/>
<text x="706.5" y="812" font-family="Liberation Sans, sans-serif" font-size="9.33" fill="#000" letter-spacing="-0.2">12 Apr 2019</text>
<rect x="771" y="800" width="1" height="3" fill="#000"/>
<text x="770.5" y="812" font-family="Liberation Sans, sans-serif" font-size="9.33" fill="#000" letter-spacing="-0.2">2 May 2019</text>
<rect x="835" y="800" width="1" height="3" fill="#000"/>
<text x="834.5" y="812" font-family="Liberation Sans, sans-serif" font-size="9.33" fill="#000" letter-spacing="-0.2">21 May 2019</text>
<rect x="899" y="800" width="1" height="3" fill="#000"/>
<text x="898.5" y="812" font-family="Liberation Sans, sans-serif" font-size="9.33" fill="#000" letter-spacing="-0.2">9 Jun 2019</text>
<rect x="963" y="800" width="1" height="3" fill="#000"/>
<text x="962.5" y="812" font-family="Liberation Sans, sans-serif" font-size="9.33" fill="#000" letter-spacing="-0.2">27 Jun 2019</text>
<rect x="1027" y="800" width="1" height="3" fill="#000"/>
<text x="1026.5" y="812" font-family="Liberation Sans, sans-serif" font-size="9.33" fill="#000" letter-spacing="-0.2">16 Jul 2019</text>
<rect x="1091" y="800" width="1" height="3" fill="#000"/>
<text x="1090.5" y="812" font-family="Liberation Sans, sans-serif" font-size="9.33" fill="#000" letter-spacing="-0.2">4 Aug 2019</text>
<polygon points="6,33.5 13.5,33.5 9.75,29.5" fill="#000" shape-rendering="auto"/>
<text x="18.3" y="34.5" font-family="Liberation Sans, sans-serif" font-size="9.7" fill="#000" >USDCAD-,Daily</text>
<text x="93.3" y="34.5" font-family="Liberation Sans, sans-serif" font-size="9.33" fill="#000" letter-spacing="-0.2">1.32141</text>
<text x="129.3" y="34.5" font-family="Liberation Sans, sans-serif" font-size="9.33" fill="#000" letter-spacing="-0.2">1.32282</text>
<text x="165.3" y="34.5" font-family="Liberation Sans, sans-serif" font-size="9.33" fill="#000" letter-spacing="-0.2">1.32098</text>
<text x="201.3" y="34.5" font-family="Liberation Sans, sans-serif" font-size="9.33" fill="#000" letter-spacing="-0.2">1.32250</text>
<polygon points="1128.8,24 1138.2,24 1133.5,29" fill="#c0c0c0" shape-rendering="auto"/>
<linearGradient id="gP" gradientUnits="userSpaceOnUse" x1="0" y1="44" x2="0" y2="106"><stop offset="0" stop-color="#5858ff"/><stop offset="0.36" stop-color="#3434e8"/><stop offset="0.4" stop-color="#2a2ae0"/><stop offset="1" stop-color="#0404b4"/></linearGradient>
<rect x="7" y="44" width="50" height="23" fill="url(#gP)"/>
<rect x="7" y="67" width="107" height="39" fill="url(#gP)"/>
<rect x="6" y="43" width="52" height="1" fill="#0000a8"/>
<rect x="6" y="43" width="1" height="64" fill="#0000a8"/>
<rect x="57" y="43" width="1" height="25" fill="#0000a8"/>
<rect x="57" y="67" width="58" height="1" fill="#0000a8"/>
<rect x="114" y="67" width="1" height="40" fill="#0000a8"/>
<rect x="6" y="106" width="109" height="1" fill="#0000a8"/>
<rect x="174" y="44" width="50" height="23" fill="url(#gP)"/>
<rect x="118" y="67" width="106" height="39" fill="url(#gP)"/>
<rect x="173" y="43" width="52" height="1" fill="#0000a8"/>
<rect x="224" y="43" width="1" height="64" fill="#0000a8"/>
<rect x="173" y="43" width="1" height="25" fill="#0000a8"/>
<rect x="117" y="67" width="57" height="1" fill="#0000a8"/>
<rect x="117" y="67" width="1" height="40" fill="#0000a8"/>
<rect x="117" y="106" width="108" height="1" fill="#0000a8"/>
<rect x="10" y="66" width="44" height="1" fill="#00009a"/>
<rect x="10" y="67" width="44" height="1" fill="#7a7aff"/>
<rect x="177" y="66" width="44" height="1" fill="#00009a"/>
<rect x="177" y="67" width="44" height="1" fill="#7a7aff"/>
<text x="17.8" y="59" font-family="Liberation Sans, sans-serif" font-size="10.9" fill="#fff" >SELL</text>
<text x="186.2" y="59" font-family="Liberation Sans, sans-serif" font-size="11.3" fill="#fff" >BUY</text>
<rect x="60" y="43" width="111" height="22" fill="#b4b4b4"/>
<rect x="61" y="44" width="109" height="20" fill="#ffffff"/>
<rect x="62" y="45" width="17" height="6" fill="#f0f0f0"/>
<rect x="62" y="51" width="17" height="12" fill="#d8d8d8"/>
<rect x="80" y="43" width="1" height="22" fill="#b4b4b4"/>
<rect x="149" y="43" width="1" height="22" fill="#b4b4b4"/>
<rect x="151" y="45" width="17" height="6" fill="#f0f0f0"/>
<rect x="151" y="51" width="17" height="12" fill="#d8d8d8"/>
<polygon points="67.5,52 73,52 70.25,55" fill="#4a68c8" shape-rendering="auto"/>
<polygon points="156.5,55 162,55 159.25,52" fill="#4a68c8" shape-rendering="auto"/>
<text x="146.2" y="58" font-family="Liberation Sans, sans-serif" font-size="11.8" fill="#1a1a1a" text-anchor="end">1.00</text>
<text x="26.3" y="98" font-family="Liberation Sans, sans-serif" font-size="12.3" fill="#fff" font-weight="bold" letter-spacing="-0.4">1.32</text>
<text transform="translate(53.8,98) scale(0.92,1)" font-family="Liberation Sans, sans-serif" font-size="34.7" fill="#fff" letter-spacing="-0.6">25</text>
<text x="92.4" y="82" font-family="Liberation Sans, sans-serif" font-size="12.5" fill="#fff" font-weight="bold">0</text>
<text x="136.3" y="98" font-family="Liberation Sans, sans-serif" font-size="12.3" fill="#fff" font-weight="bold" letter-spacing="-0.4">1.32</text>
<text transform="translate(164.3,98) scale(0.92,1)" font-family="Liberation Sans, sans-serif" font-size="34.7" fill="#fff" letter-spacing="-0.6">27</text>
<text x="204.4" y="82" font-family="Liberation Sans, sans-serif" font-size="12.5" fill="#fff" font-weight="bold">1</text>
<rect x="0" y="820" width="1462" height="1" fill="#e3e3e3"/>
<rect x="0" y="822" width="1462" height="1" fill="#000"/>
<rect x="0" y="823" width="1462" height="19" fill="#f0f0f0"/>
<rect x="0" y="823" width="1462" height="1" fill="#fbfbfb"/>
<rect x="0" y="843" width="1462" height="3" fill="#f0f0f0"/>
<rect x="327" y="823" width="1" height="19" fill="#ffffff"/>
<rect x="436" y="823" width="1" height="19" fill="#ffffff"/>
<rect x="328" y="822" width="108" height="18" fill="#ffffff"/>
<rect x="328" y="822" width="1" height="19" fill="#000"/>
<rect x="435" y="822" width="1" height="19" fill="#000"/>
<rect x="328" y="840" width="108" height="1" fill="#000"/>
<rect x="329" y="841" width="107" height="1" fill="#d8d8d8"/>
<text x="15.5" y="837" font-family="Liberation Sans, sans-serif" font-size="12.2" fill="#6a6a6a" >EURUSD-,Daily</text>
<text x="122" y="837" font-family="Liberation Sans, sans-serif" font-size="12.2" fill="#6a6a6a" >AUDUSD-,Daily</text>
<text x="232.5" y="837" font-family="Liberation Sans, sans-serif" font-size="12.2" fill="#6a6a6a" >USDCHF-,Daily</text>
<text x="448" y="837" font-family="Liberation Sans, sans-serif" font-size="12.2" fill="#6a6a6a" >USDCNH-,Daily</text>
<text x="559" y="837" font-family="Liberation Sans, sans-serif" font-size="12.2" fill="#6a6a6a" >EURCHF-,Weekly</text>
<text x="680" y="837" font-family="Liberation Sans, sans-serif" font-size="12.2" fill="#6a6a6a" >XAUUSD-,Weekly</text>
<text x="803" y="837" font-family="Liberation Sans, sans-serif" font-size="12.2" fill="#6a6a6a" >GBPUSD-,H1</text>
<text x="899" y="837" font-family="Liberation Sans, sans-serif" font-size="12.2" fill="#6a6a6a" >UKOil-,H1</text>
<text x="978.5" y="837" font-family="Liberation Sans, sans-serif" font-size="12.2" fill="#6a6a6a" >USDX-,Weekly</text>
<text x="339.3" y="837" font-family="Liberation Sans, sans-serif" font-size="12.2" fill="#000" >USDCAD-,Daily</text>
<rect x="112" y="827" width="1" height="12" fill="#6a6a6a"/>
<rect x="220" y="827" width="1" height="12" fill="#6a6a6a"/>
<rect x="548" y="827" width="1" height="12" fill="#6a6a6a"/>
<rect x="668" y="827" width="1" height="12" fill="#6a6a6a"/>
<rect x="792" y="827" width="1" height="12" fill="#6a6a6a"/>
<rect x="888" y="827" width="1" height="12" fill="#6a6a6a"/>
<rect x="968" y="827" width="1" height="12" fill="#6a6a6a"/>
<rect x="1072" y="827" width="1" height="12" fill="#6a6a6a"/>
<polygon points="1434,831 1437,828 1437,834" fill="#909090" shape-rendering="auto"/>
<polygon points="1456,831 1453,828 1453,834" fill="#909090" shape-rendering="auto"/>
</svg>
</body></html>
